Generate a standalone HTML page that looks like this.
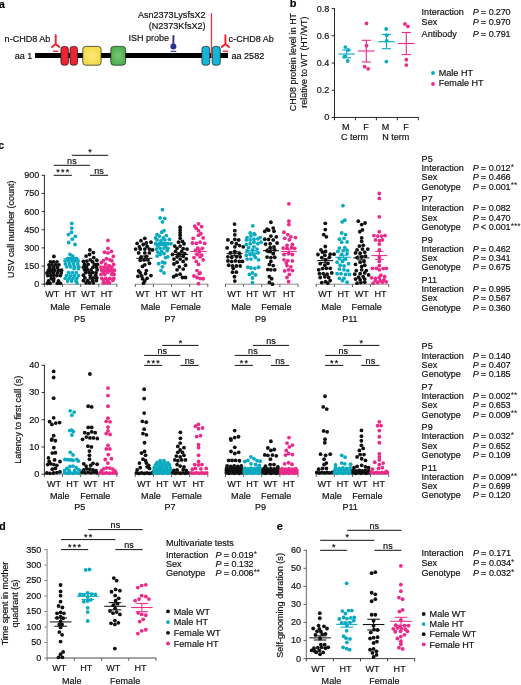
<!DOCTYPE html>
<html lang="en">
<head>
<meta charset="utf-8">
<title>Figure</title>
<style>
html,body{margin:0;padding:0;background:#fff;}
body{width:521px;height:685px;overflow:hidden;}
svg{display:block;font-family:"Liberation Sans",Arial,Helvetica,sans-serif;font-size:9.05px;fill:#111;}
text{stroke:#111;stroke-width:0.18px;}
</style>
</head>
<body>
<svg width="521" height="685" viewBox="0 0 521 685">
<rect x="0" y="0" width="521" height="685" fill="#fff"/>
<text x="-1.20" y="7.60" font-weight="bold" font-size="11" fill="#000">a</text>
<text x="289.70" y="7.00" font-weight="bold" font-size="11" fill="#000">b</text>
<text x="-1.70" y="149.00" font-weight="bold" font-size="10.6" fill="#000">c</text>
<text x="-1.00" y="529.80" font-weight="bold" font-size="11" fill="#000">d</text>
<text x="276.80" y="529.60" font-weight="bold" font-size="11" fill="#000">e</text>
<rect x="35" y="53" width="193" height="5" fill="#000"/>
<defs><radialGradient id="gy"><stop offset="0" stop-color="#fbeb7e"/><stop offset="1" stop-color="#f3dc45"/></radialGradient><radialGradient id="gg"><stop offset="0" stop-color="#7cc777"/><stop offset="1" stop-color="#4fb04f"/></radialGradient></defs>
<rect x="60.9" y="46.4" width="7.5" height="18.8" rx="2.8" ry="2.8" fill="#ea2430" stroke="#1a1a1a" stroke-width="0.7"/>
<rect x="70" y="46.4" width="7.5" height="18.8" rx="2.8" ry="2.8" fill="#ea2430" stroke="#1a1a1a" stroke-width="0.7"/>
<rect x="82.8" y="46.4" width="18.3" height="18.8" rx="3" ry="3" fill="url(#gy)" stroke="#1a1a1a" stroke-width="0.7"/>
<rect x="110.8" y="46.4" width="14.8" height="18.8" rx="3" ry="3" fill="url(#gg)" stroke="#1a1a1a" stroke-width="0.7"/>
<rect x="201.9" y="46.4" width="7.9" height="18.8" rx="2.8" ry="2.8" fill="#14b5d6" stroke="#1a1a1a" stroke-width="0.7"/>
<rect x="212.2" y="46.4" width="8.1" height="18.8" rx="2.8" ry="2.8" fill="#14b5d6" stroke="#1a1a1a" stroke-width="0.7"/>
<line x1="211.45" y1="13.00" x2="211.45" y2="57.80" stroke="#ef3040" stroke-width="1.25"/>
<text x="4.60" y="41.80">n-CHD8 Ab</text>
<text x="14.80" y="58.60">aa 1</text>
<text x="205.50" y="18.00" text-anchor="end">Asn2373LysfsX2</text>
<text x="205.50" y="29.00" text-anchor="end">(N2373KfsX2)</text>
<text x="128.40" y="41.30">ISH probe</text>
<text x="228.60" y="41.90">c-CHD8 Ab</text>
<text x="231.50" y="58.70">aa 2582</text>
<path d="M55.7 35.2 V44.3 M55.7 44.0 L52.0 47.0 M55.7 44.0 L59.400000000000006 47.0" stroke="#ee1f2e" stroke-width="1.9" stroke-linecap="round" fill="none"/>
<line x1="53.00" y1="51.20" x2="58.40" y2="51.20" stroke="#ee1f2e" stroke-width="1.3"/>
<path d="M225.4 35.2 V44.3 M225.4 44.0 L221.70000000000002 47.0 M225.4 44.0 L229.1 47.0" stroke="#ee1f2e" stroke-width="1.9" stroke-linecap="round" fill="none"/>
<line x1="222.70" y1="51.20" x2="228.10" y2="51.20" stroke="#ee1f2e" stroke-width="1.3"/>
<line x1="173.40" y1="35.20" x2="173.40" y2="46.00" stroke="#2a2f92" stroke-width="1.9"/>
<circle cx="173.4" cy="46.4" r="3.0" fill="#2a2f92"/>
<line x1="170.60" y1="51.30" x2="176.30" y2="51.30" stroke="#2a2f92" stroke-width="1.1"/>
<line x1="334.05" y1="117.45" x2="418.75" y2="117.45" stroke="#111" stroke-width="0.9"/>
<line x1="334.50" y1="117.45" x2="334.50" y2="120.25" stroke="#111" stroke-width="0.9"/>
<line x1="355.45" y1="117.45" x2="355.45" y2="120.25" stroke="#111" stroke-width="0.9"/>
<line x1="376.40" y1="117.45" x2="376.40" y2="120.25" stroke="#111" stroke-width="0.9"/>
<line x1="397.35" y1="117.45" x2="397.35" y2="120.25" stroke="#111" stroke-width="0.9"/>
<line x1="418.30" y1="117.45" x2="418.30" y2="120.25" stroke="#111" stroke-width="0.9"/>
<line x1="334.50" y1="8.15" x2="334.50" y2="117.90" stroke="#111" stroke-width="0.9"/>
<line x1="331.70" y1="117.45" x2="334.50" y2="117.45" stroke="#111" stroke-width="0.9"/>
<text x="329.40" y="120.35" text-anchor="end">0</text>
<line x1="331.70" y1="90.24" x2="334.50" y2="90.24" stroke="#111" stroke-width="0.9"/>
<text x="329.40" y="93.14" text-anchor="end">0.2</text>
<line x1="331.70" y1="63.02" x2="334.50" y2="63.02" stroke="#111" stroke-width="0.9"/>
<text x="329.40" y="65.92" text-anchor="end">0.4</text>
<line x1="331.70" y1="35.81" x2="334.50" y2="35.81" stroke="#111" stroke-width="0.9"/>
<text x="329.40" y="38.71" text-anchor="end">0.6</text>
<line x1="331.70" y1="8.60" x2="334.50" y2="8.60" stroke="#111" stroke-width="0.9"/>
<text x="329.40" y="11.50" text-anchor="end">0.8</text>
<text x="345.80" y="129.60" text-anchor="middle">M</text>
<text x="366.10" y="129.60" text-anchor="middle">F</text>
<text x="385.50" y="129.60" text-anchor="middle">M</text>
<text x="405.90" y="129.60" text-anchor="middle">F</text>
<text x="354.60" y="140.20" text-anchor="middle">C term</text>
<text x="395.80" y="140.20" text-anchor="middle">N term</text>
<text transform="translate(296.40 62.10) rotate(-90)" text-anchor="middle" font-size="8.9">CHD8 protein level in HT</text>
<text transform="translate(307.40 62.10) rotate(-90)" text-anchor="middle" font-size="8.9">relative to WT (HT/WT)</text>
<line x1="338.40" y1="54.00" x2="355.00" y2="54.00" stroke="#0aaac0" stroke-width="1.1"/>
<line x1="342.10" y1="50.00" x2="351.30" y2="50.00" stroke="#0aaac0" stroke-width="1.1"/>
<line x1="342.10" y1="57.80" x2="351.30" y2="57.80" stroke="#0aaac0" stroke-width="1.1"/>
<line x1="346.70" y1="50.00" x2="346.70" y2="57.80" stroke="#0aaac0" stroke-width="1.1"/>
<circle cx="345.31" cy="47.03" r="1.9" fill="#0aaac0"/>
<circle cx="348.26" cy="49.99" r="1.9" fill="#0aaac0"/>
<circle cx="344.50" cy="56.44" r="1.9" fill="#0aaac0"/>
<circle cx="347.72" cy="61.01" r="1.9" fill="#0aaac0"/>
<line x1="358.00" y1="51.00" x2="374.60" y2="51.00" stroke="#ec2a8a" stroke-width="1.1"/>
<line x1="361.70" y1="40.30" x2="370.90" y2="40.30" stroke="#ec2a8a" stroke-width="1.1"/>
<line x1="361.70" y1="62.00" x2="370.90" y2="62.00" stroke="#ec2a8a" stroke-width="1.1"/>
<line x1="366.30" y1="40.30" x2="366.30" y2="62.00" stroke="#ec2a8a" stroke-width="1.1"/>
<circle cx="366.54" cy="23.38" r="1.9" fill="#ec2a8a"/>
<circle cx="366.54" cy="45.69" r="1.9" fill="#ec2a8a"/>
<circle cx="364.65" cy="66.65" r="1.9" fill="#ec2a8a"/>
<circle cx="368.15" cy="68.80" r="1.9" fill="#ec2a8a"/>
<line x1="378.10" y1="41.70" x2="394.70" y2="41.70" stroke="#0aaac0" stroke-width="1.1"/>
<line x1="381.80" y1="34.40" x2="391.00" y2="34.40" stroke="#0aaac0" stroke-width="1.1"/>
<line x1="381.80" y1="48.70" x2="391.00" y2="48.70" stroke="#0aaac0" stroke-width="1.1"/>
<line x1="386.40" y1="34.40" x2="386.40" y2="48.70" stroke="#0aaac0" stroke-width="1.1"/>
<circle cx="386.15" cy="29.02" r="1.9" fill="#0aaac0"/>
<circle cx="386.69" cy="35.21" r="1.9" fill="#0aaac0"/>
<circle cx="386.69" cy="40.85" r="1.9" fill="#0aaac0"/>
<circle cx="386.42" cy="61.54" r="1.9" fill="#0aaac0"/>
<line x1="398.00" y1="43.50" x2="414.60" y2="43.50" stroke="#ec2a8a" stroke-width="1.1"/>
<line x1="401.70" y1="32.50" x2="410.90" y2="32.50" stroke="#ec2a8a" stroke-width="1.1"/>
<line x1="401.70" y1="54.60" x2="410.90" y2="54.60" stroke="#ec2a8a" stroke-width="1.1"/>
<line x1="406.30" y1="32.50" x2="406.30" y2="54.60" stroke="#ec2a8a" stroke-width="1.1"/>
<circle cx="404.97" cy="23.92" r="1.9" fill="#ec2a8a"/>
<circle cx="407.92" cy="26.34" r="1.9" fill="#ec2a8a"/>
<circle cx="406.31" cy="59.66" r="1.9" fill="#ec2a8a"/>
<circle cx="406.31" cy="65.04" r="1.9" fill="#ec2a8a"/>
<text x="421.60" y="14.50">Interaction</text>
<text x="472.70" y="14.50"><tspan font-style="italic">P</tspan><tspan x="480.80">=</tspan><tspan x="488.70" letter-spacing="-0.18">0.270</tspan></text>
<text x="421.60" y="25.40">Sex</text>
<text x="472.70" y="25.40"><tspan font-style="italic">P</tspan><tspan x="480.80">=</tspan><tspan x="488.70" letter-spacing="-0.18">0.970</tspan></text>
<text x="421.60" y="36.60">Antibody</text>
<text x="472.70" y="36.60"><tspan font-style="italic">P</tspan><tspan x="480.80">=</tspan><tspan x="488.70" letter-spacing="-0.18">0.791</tspan></text>
<circle cx="433.00" cy="73.00" r="1.9" fill="#0aaac0"/>
<text x="438.80" y="76.20">Male HT</text>
<circle cx="433.00" cy="84.00" r="1.9" fill="#ec2a8a"/>
<text x="438.80" y="86.40">Female HT</text>
<line x1="43.95" y1="284.20" x2="117.35" y2="284.20" stroke="#8a8a8a" stroke-width="1.0"/>
<line x1="44.40" y1="284.20" x2="44.40" y2="287.00" stroke="#505050" stroke-width="0.9"/>
<line x1="62.52" y1="284.20" x2="62.52" y2="287.00" stroke="#505050" stroke-width="0.9"/>
<line x1="80.65" y1="284.20" x2="80.65" y2="287.00" stroke="#505050" stroke-width="0.9"/>
<line x1="98.78" y1="284.20" x2="98.78" y2="287.00" stroke="#505050" stroke-width="0.9"/>
<line x1="116.90" y1="284.20" x2="116.90" y2="287.00" stroke="#505050" stroke-width="0.9"/>
<line x1="44.40" y1="174.85" x2="44.40" y2="284.65" stroke="#1a1a1a" stroke-width="0.9"/>
<line x1="41.60" y1="284.20" x2="44.40" y2="284.20" stroke="#1a1a1a" stroke-width="0.9"/>
<text x="39.30" y="287.10" text-anchor="end">0</text>
<line x1="41.60" y1="266.05" x2="44.40" y2="266.05" stroke="#1a1a1a" stroke-width="0.9"/>
<text x="39.30" y="268.95" text-anchor="end">150</text>
<line x1="41.60" y1="247.90" x2="44.40" y2="247.90" stroke="#1a1a1a" stroke-width="0.9"/>
<text x="39.30" y="250.80" text-anchor="end">300</text>
<line x1="41.60" y1="229.75" x2="44.40" y2="229.75" stroke="#1a1a1a" stroke-width="0.9"/>
<text x="39.30" y="232.65" text-anchor="end">450</text>
<line x1="41.60" y1="211.60" x2="44.40" y2="211.60" stroke="#1a1a1a" stroke-width="0.9"/>
<text x="39.30" y="214.50" text-anchor="end">600</text>
<line x1="41.60" y1="193.45" x2="44.40" y2="193.45" stroke="#1a1a1a" stroke-width="0.9"/>
<text x="39.30" y="196.35" text-anchor="end">750</text>
<line x1="41.60" y1="175.30" x2="44.40" y2="175.30" stroke="#1a1a1a" stroke-width="0.9"/>
<text x="39.30" y="178.20" text-anchor="end">900</text>
<text x="52.20" y="296.90" text-anchor="middle">WT</text>
<text x="70.55" y="296.90" text-anchor="middle">HT</text>
<text x="88.40" y="296.90" text-anchor="middle">WT</text>
<text x="106.80" y="296.90" text-anchor="middle">HT</text>
<text x="60.05" y="309.60" text-anchor="middle">Male</text>
<text x="95.50" y="309.60" text-anchor="middle">Female</text>
<text x="79.65" y="322.20" text-anchor="middle">P5</text>
<line x1="43.95" y1="474.20" x2="117.35" y2="474.20" stroke="#8a8a8a" stroke-width="1.0"/>
<line x1="44.40" y1="474.20" x2="44.40" y2="477.00" stroke="#505050" stroke-width="0.9"/>
<line x1="62.52" y1="474.20" x2="62.52" y2="477.00" stroke="#505050" stroke-width="0.9"/>
<line x1="80.65" y1="474.20" x2="80.65" y2="477.00" stroke="#505050" stroke-width="0.9"/>
<line x1="98.78" y1="474.20" x2="98.78" y2="477.00" stroke="#505050" stroke-width="0.9"/>
<line x1="116.90" y1="474.20" x2="116.90" y2="477.00" stroke="#505050" stroke-width="0.9"/>
<line x1="44.40" y1="364.85" x2="44.40" y2="474.65" stroke="#1a1a1a" stroke-width="0.9"/>
<line x1="41.60" y1="474.20" x2="44.40" y2="474.20" stroke="#1a1a1a" stroke-width="0.9"/>
<text x="39.30" y="477.10" text-anchor="end">0</text>
<line x1="41.60" y1="446.98" x2="44.40" y2="446.98" stroke="#1a1a1a" stroke-width="0.9"/>
<text x="39.30" y="449.88" text-anchor="end">10</text>
<line x1="41.60" y1="419.75" x2="44.40" y2="419.75" stroke="#1a1a1a" stroke-width="0.9"/>
<text x="39.30" y="422.65" text-anchor="end">20</text>
<line x1="41.60" y1="392.52" x2="44.40" y2="392.52" stroke="#1a1a1a" stroke-width="0.9"/>
<text x="39.30" y="395.42" text-anchor="end">30</text>
<line x1="41.60" y1="365.30" x2="44.40" y2="365.30" stroke="#1a1a1a" stroke-width="0.9"/>
<text x="39.30" y="368.20" text-anchor="end">40</text>
<text x="53.97" y="486.90" text-anchor="middle">WT</text>
<text x="72.40" y="486.90" text-anchor="middle">HT</text>
<text x="90.60" y="486.90" text-anchor="middle">WT</text>
<text x="109.00" y="486.90" text-anchor="middle">HT</text>
<text x="59.80" y="499.00" text-anchor="middle">Male</text>
<text x="95.30" y="499.00" text-anchor="middle">Female</text>
<text x="79.75" y="510.00" text-anchor="middle">P5</text>
<line x1="134.90" y1="284.20" x2="208.20" y2="284.20" stroke="#8a8a8a" stroke-width="1.0"/>
<line x1="135.30" y1="284.20" x2="135.30" y2="287.00" stroke="#505050" stroke-width="0.9"/>
<line x1="153.43" y1="284.20" x2="153.43" y2="287.00" stroke="#505050" stroke-width="0.9"/>
<line x1="171.55" y1="284.20" x2="171.55" y2="287.00" stroke="#505050" stroke-width="0.9"/>
<line x1="189.68" y1="284.20" x2="189.68" y2="287.00" stroke="#505050" stroke-width="0.9"/>
<line x1="207.80" y1="284.20" x2="207.80" y2="287.00" stroke="#505050" stroke-width="0.9"/>
<text x="142.80" y="296.90" text-anchor="middle">WT</text>
<text x="161.40" y="296.90" text-anchor="middle">HT</text>
<text x="178.60" y="296.90" text-anchor="middle">WT</text>
<text x="197.10" y="296.90" text-anchor="middle">HT</text>
<text x="150.60" y="309.60" text-anchor="middle">Male</text>
<text x="185.70" y="309.60" text-anchor="middle">Female</text>
<text x="170.00" y="322.20" text-anchor="middle">P7</text>
<line x1="134.90" y1="474.20" x2="208.20" y2="474.20" stroke="#8a8a8a" stroke-width="1.0"/>
<line x1="135.30" y1="474.20" x2="135.30" y2="477.00" stroke="#505050" stroke-width="0.9"/>
<line x1="153.43" y1="474.20" x2="153.43" y2="477.00" stroke="#505050" stroke-width="0.9"/>
<line x1="171.55" y1="474.20" x2="171.55" y2="477.00" stroke="#505050" stroke-width="0.9"/>
<line x1="189.68" y1="474.20" x2="189.68" y2="477.00" stroke="#505050" stroke-width="0.9"/>
<line x1="207.80" y1="474.20" x2="207.80" y2="477.00" stroke="#505050" stroke-width="0.9"/>
<text x="143.97" y="486.90" text-anchor="middle">WT</text>
<text x="162.40" y="486.90" text-anchor="middle">HT</text>
<text x="179.80" y="486.90" text-anchor="middle">WT</text>
<text x="198.60" y="486.90" text-anchor="middle">HT</text>
<text x="150.90" y="499.00" text-anchor="middle">Male</text>
<text x="186.80" y="499.00" text-anchor="middle">Female</text>
<text x="170.00" y="510.00" text-anchor="middle">P7</text>
<line x1="225.10" y1="284.20" x2="298.40" y2="284.20" stroke="#8a8a8a" stroke-width="1.0"/>
<line x1="225.50" y1="284.20" x2="225.50" y2="287.00" stroke="#505050" stroke-width="0.9"/>
<line x1="243.62" y1="284.20" x2="243.62" y2="287.00" stroke="#505050" stroke-width="0.9"/>
<line x1="261.75" y1="284.20" x2="261.75" y2="287.00" stroke="#505050" stroke-width="0.9"/>
<line x1="279.88" y1="284.20" x2="279.88" y2="287.00" stroke="#505050" stroke-width="0.9"/>
<line x1="298.00" y1="284.20" x2="298.00" y2="287.00" stroke="#505050" stroke-width="0.9"/>
<text x="234.35" y="296.90" text-anchor="middle">WT</text>
<text x="252.40" y="296.90" text-anchor="middle">HT</text>
<text x="269.60" y="296.90" text-anchor="middle">WT</text>
<text x="289.00" y="296.90" text-anchor="middle">HT</text>
<text x="241.00" y="309.60" text-anchor="middle">Male</text>
<text x="276.35" y="309.60" text-anchor="middle">Female</text>
<text x="260.55" y="322.20" text-anchor="middle">P9</text>
<line x1="225.10" y1="474.20" x2="298.40" y2="474.20" stroke="#8a8a8a" stroke-width="1.0"/>
<line x1="225.50" y1="474.20" x2="225.50" y2="477.00" stroke="#505050" stroke-width="0.9"/>
<line x1="243.62" y1="474.20" x2="243.62" y2="477.00" stroke="#505050" stroke-width="0.9"/>
<line x1="261.75" y1="474.20" x2="261.75" y2="477.00" stroke="#505050" stroke-width="0.9"/>
<line x1="279.88" y1="474.20" x2="279.88" y2="477.00" stroke="#505050" stroke-width="0.9"/>
<line x1="298.00" y1="474.20" x2="298.00" y2="477.00" stroke="#505050" stroke-width="0.9"/>
<text x="234.20" y="486.90" text-anchor="middle">WT</text>
<text x="252.40" y="486.90" text-anchor="middle">HT</text>
<text x="270.60" y="486.90" text-anchor="middle">WT</text>
<text x="289.00" y="486.90" text-anchor="middle">HT</text>
<text x="240.90" y="499.00" text-anchor="middle">Male</text>
<text x="276.20" y="499.00" text-anchor="middle">Female</text>
<text x="260.55" y="510.00" text-anchor="middle">P9</text>
<line x1="315.80" y1="284.20" x2="389.10" y2="284.20" stroke="#8a8a8a" stroke-width="1.0"/>
<line x1="316.20" y1="284.20" x2="316.20" y2="287.00" stroke="#505050" stroke-width="0.9"/>
<line x1="334.32" y1="284.20" x2="334.32" y2="287.00" stroke="#505050" stroke-width="0.9"/>
<line x1="352.45" y1="284.20" x2="352.45" y2="287.00" stroke="#505050" stroke-width="0.9"/>
<line x1="370.57" y1="284.20" x2="370.57" y2="287.00" stroke="#505050" stroke-width="0.9"/>
<line x1="388.70" y1="284.20" x2="388.70" y2="287.00" stroke="#505050" stroke-width="0.9"/>
<text x="325.20" y="296.90" text-anchor="middle">WT</text>
<text x="343.55" y="296.90" text-anchor="middle">HT</text>
<text x="361.80" y="296.90" text-anchor="middle">WT</text>
<text x="380.55" y="296.90" text-anchor="middle">HT</text>
<text x="331.40" y="309.60" text-anchor="middle">Male</text>
<text x="366.70" y="309.60" text-anchor="middle">Female</text>
<text x="349.85" y="322.20" text-anchor="middle">P11</text>
<line x1="315.80" y1="474.20" x2="389.10" y2="474.20" stroke="#8a8a8a" stroke-width="1.0"/>
<line x1="316.20" y1="474.20" x2="316.20" y2="477.00" stroke="#505050" stroke-width="0.9"/>
<line x1="334.32" y1="474.20" x2="334.32" y2="477.00" stroke="#505050" stroke-width="0.9"/>
<line x1="352.45" y1="474.20" x2="352.45" y2="477.00" stroke="#505050" stroke-width="0.9"/>
<line x1="370.57" y1="474.20" x2="370.57" y2="477.00" stroke="#505050" stroke-width="0.9"/>
<line x1="388.70" y1="474.20" x2="388.70" y2="477.00" stroke="#505050" stroke-width="0.9"/>
<text x="324.50" y="486.90" text-anchor="middle">WT</text>
<text x="342.85" y="486.90" text-anchor="middle">HT</text>
<text x="360.40" y="486.90" text-anchor="middle">WT</text>
<text x="378.90" y="486.90" text-anchor="middle">HT</text>
<text x="331.90" y="499.00" text-anchor="middle">Male</text>
<text x="367.40" y="499.00" text-anchor="middle">Female</text>
<text x="350.15" y="510.00" text-anchor="middle">P11</text>
<text transform="translate(14.40 229.30) rotate(-90)" text-anchor="middle" font-size="8.95">USV call number (count)</text>
<text transform="translate(20.50 419.80) rotate(-90)" text-anchor="middle">Latency to first call (s)</text>
<line x1="53.76" y1="175.30" x2="71.89" y2="175.30" stroke="#111" stroke-width="1.0"/>
<text x="63.43" y="175.40" text-anchor="middle" font-size="9" letter-spacing="1.25" stroke-width="0.1">***</text>
<line x1="53.76" y1="165.30" x2="90.01" y2="165.30" stroke="#111" stroke-width="1.0"/>
<text x="71.89" y="163.50" text-anchor="middle">ns</text>
<line x1="71.89" y1="155.30" x2="108.14" y2="155.30" stroke="#111" stroke-width="1.0"/>
<text x="90.61" y="155.40" text-anchor="middle" font-size="9" letter-spacing="1.25" stroke-width="0.1">*</text>
<line x1="90.01" y1="175.30" x2="108.14" y2="175.30" stroke="#111" stroke-width="1.0"/>
<text x="99.08" y="173.50" text-anchor="middle">ns</text>
<line x1="144.16" y1="365.40" x2="162.29" y2="365.40" stroke="#111" stroke-width="1.0"/>
<text x="153.83" y="365.50" text-anchor="middle" font-size="9" letter-spacing="1.25" stroke-width="0.1">***</text>
<line x1="144.16" y1="355.40" x2="180.41" y2="355.40" stroke="#111" stroke-width="1.0"/>
<text x="162.29" y="353.60" text-anchor="middle">ns</text>
<line x1="162.29" y1="345.40" x2="198.54" y2="345.40" stroke="#111" stroke-width="1.0"/>
<text x="181.01" y="345.50" text-anchor="middle" font-size="9" letter-spacing="1.25" stroke-width="0.1">*</text>
<line x1="180.41" y1="365.40" x2="198.54" y2="365.40" stroke="#111" stroke-width="1.0"/>
<text x="189.48" y="363.60" text-anchor="middle">ns</text>
<line x1="234.76" y1="365.40" x2="252.89" y2="365.40" stroke="#111" stroke-width="1.0"/>
<text x="244.43" y="365.50" text-anchor="middle" font-size="9" letter-spacing="1.25" stroke-width="0.1">**</text>
<line x1="234.76" y1="355.40" x2="271.01" y2="355.40" stroke="#111" stroke-width="1.0"/>
<text x="252.89" y="353.60" text-anchor="middle">ns</text>
<line x1="252.89" y1="345.40" x2="289.14" y2="345.40" stroke="#111" stroke-width="1.0"/>
<text x="271.01" y="343.60" text-anchor="middle">ns</text>
<line x1="271.01" y1="365.40" x2="289.14" y2="365.40" stroke="#111" stroke-width="1.0"/>
<text x="280.07" y="363.60" text-anchor="middle">ns</text>
<line x1="325.06" y1="365.40" x2="343.19" y2="365.40" stroke="#111" stroke-width="1.0"/>
<text x="334.73" y="365.50" text-anchor="middle" font-size="9" letter-spacing="1.25" stroke-width="0.1">**</text>
<line x1="325.06" y1="355.40" x2="361.31" y2="355.40" stroke="#111" stroke-width="1.0"/>
<text x="343.19" y="353.60" text-anchor="middle">ns</text>
<line x1="343.19" y1="345.40" x2="379.44" y2="345.40" stroke="#111" stroke-width="1.0"/>
<text x="361.91" y="345.50" text-anchor="middle" font-size="9" letter-spacing="1.25" stroke-width="0.1">*</text>
<line x1="361.31" y1="365.40" x2="379.44" y2="365.40" stroke="#111" stroke-width="1.0"/>
<text x="370.38" y="363.60" text-anchor="middle">ns</text>
<text x="421.60" y="161.70">P5</text>
<text x="421.60" y="170.90">Interaction</text>
<text x="472.70" y="170.90"><tspan font-style="italic">P</tspan><tspan x="480.80">=</tspan><tspan x="488.70" letter-spacing="-0.18">0.012</tspan><tspan font-size="8.5" dy="-1.2" dx="0.3" letter-spacing="-0.1" stroke-width="0">*</tspan></text>
<text x="421.60" y="180.20">Sex</text>
<text x="472.70" y="180.20"><tspan font-style="italic">P</tspan><tspan x="480.80">=</tspan><tspan x="488.70" letter-spacing="-0.18">0.466</tspan></text>
<text x="421.60" y="189.50">Genotype</text>
<text x="472.70" y="189.50"><tspan font-style="italic">P</tspan><tspan x="480.80">=</tspan><tspan x="488.70" letter-spacing="-0.18">0.001</tspan><tspan font-size="8.5" dy="-1.2" dx="0.3" letter-spacing="-0.1" stroke-width="0">**</tspan></text>
<text x="421.60" y="202.10">P7</text>
<text x="421.60" y="211.30">Interaction</text>
<text x="472.70" y="211.30"><tspan font-style="italic">P</tspan><tspan x="480.80">=</tspan><tspan x="488.70" letter-spacing="-0.18">0.082</tspan></text>
<text x="421.60" y="220.60">Sex</text>
<text x="472.70" y="220.60"><tspan font-style="italic">P</tspan><tspan x="480.80">=</tspan><tspan x="488.70" letter-spacing="-0.18">0.470</tspan></text>
<text x="421.60" y="229.90">Genotype</text>
<text x="472.70" y="229.90"><tspan font-style="italic">P</tspan><tspan x="480.80">&lt;</tspan><tspan x="488.70" letter-spacing="-0.18">0.001</tspan><tspan font-size="8.5" dy="-1.2" dx="0.3" letter-spacing="-0.1" stroke-width="0">***</tspan></text>
<text x="421.60" y="242.50">P9</text>
<text x="421.60" y="251.70">Interaction</text>
<text x="472.70" y="251.70"><tspan font-style="italic">P</tspan><tspan x="480.80">=</tspan><tspan x="488.70" letter-spacing="-0.18">0.462</tspan></text>
<text x="421.60" y="261.00">Sex</text>
<text x="472.70" y="261.00"><tspan font-style="italic">P</tspan><tspan x="480.80">=</tspan><tspan x="488.70" letter-spacing="-0.18">0.341</tspan></text>
<text x="421.60" y="270.30">Genotype</text>
<text x="472.70" y="270.30"><tspan font-style="italic">P</tspan><tspan x="480.80">=</tspan><tspan x="488.70" letter-spacing="-0.18">0.675</tspan></text>
<text x="421.60" y="282.90">P11</text>
<text x="421.60" y="292.10">Interaction</text>
<text x="472.70" y="292.10"><tspan font-style="italic">P</tspan><tspan x="480.80">=</tspan><tspan x="488.70" letter-spacing="-0.18">0.995</tspan></text>
<text x="421.60" y="301.40">Sex</text>
<text x="472.70" y="301.40"><tspan font-style="italic">P</tspan><tspan x="480.80">=</tspan><tspan x="488.70" letter-spacing="-0.18">0.567</tspan></text>
<text x="421.60" y="310.70">Genotype</text>
<text x="472.70" y="310.70"><tspan font-style="italic">P</tspan><tspan x="480.80">=</tspan><tspan x="488.70" letter-spacing="-0.18">0.360</tspan></text>
<text x="421.60" y="349.40">P5</text>
<text x="421.60" y="358.60">Interaction</text>
<text x="472.70" y="358.60"><tspan font-style="italic">P</tspan><tspan x="480.80">=</tspan><tspan x="488.70" letter-spacing="-0.18">0.140</tspan></text>
<text x="421.60" y="367.90">Sex</text>
<text x="472.70" y="367.90"><tspan font-style="italic">P</tspan><tspan x="480.80">=</tspan><tspan x="488.70" letter-spacing="-0.18">0.407</tspan></text>
<text x="421.60" y="377.20">Genotype</text>
<text x="472.70" y="377.20"><tspan font-style="italic">P</tspan><tspan x="480.80">=</tspan><tspan x="488.70" letter-spacing="-0.18">0.185</tspan></text>
<text x="421.60" y="389.80">P7</text>
<text x="421.60" y="399.00">Interaction</text>
<text x="472.70" y="399.00"><tspan font-style="italic">P</tspan><tspan x="480.80">=</tspan><tspan x="488.70" letter-spacing="-0.18">0.002</tspan><tspan font-size="8.5" dy="-1.2" dx="0.3" letter-spacing="-0.1" stroke-width="0">**</tspan></text>
<text x="421.60" y="408.30">Sex</text>
<text x="472.70" y="408.30"><tspan font-style="italic">P</tspan><tspan x="480.80">=</tspan><tspan x="488.70" letter-spacing="-0.18">0.653</tspan></text>
<text x="421.60" y="417.60">Genotype</text>
<text x="472.70" y="417.60"><tspan font-style="italic">P</tspan><tspan x="480.80">=</tspan><tspan x="488.70" letter-spacing="-0.18">0.009</tspan><tspan font-size="8.5" dy="-1.2" dx="0.3" letter-spacing="-0.1" stroke-width="0">**</tspan></text>
<text x="421.60" y="430.20">P9</text>
<text x="421.60" y="439.40">Interaction</text>
<text x="472.70" y="439.40"><tspan font-style="italic">P</tspan><tspan x="480.80">=</tspan><tspan x="488.70" letter-spacing="-0.18">0.032</tspan><tspan font-size="8.5" dy="-1.2" dx="0.3" letter-spacing="-0.1" stroke-width="0">*</tspan></text>
<text x="421.60" y="448.70">Sex</text>
<text x="472.70" y="448.70"><tspan font-style="italic">P</tspan><tspan x="480.80">=</tspan><tspan x="488.70" letter-spacing="-0.18">0.652</tspan></text>
<text x="421.60" y="458.00">Genotype</text>
<text x="472.70" y="458.00"><tspan font-style="italic">P</tspan><tspan x="480.80">=</tspan><tspan x="488.70" letter-spacing="-0.18">0.109</tspan></text>
<text x="421.60" y="470.60">P11</text>
<text x="421.60" y="479.80">Interaction</text>
<text x="472.70" y="479.80"><tspan font-style="italic">P</tspan><tspan x="480.80">=</tspan><tspan x="488.70" letter-spacing="-0.18">0.009</tspan><tspan font-size="8.5" dy="-1.2" dx="0.3" letter-spacing="-0.1" stroke-width="0">**</tspan></text>
<text x="421.60" y="489.10">Sex</text>
<text x="472.70" y="489.10"><tspan font-style="italic">P</tspan><tspan x="480.80">=</tspan><tspan x="488.70" letter-spacing="-0.18">0.699</tspan></text>
<text x="421.60" y="498.40">Genotype</text>
<text x="472.70" y="498.40"><tspan font-style="italic">P</tspan><tspan x="480.80">=</tspan><tspan x="488.70" letter-spacing="-0.18">0.120</tspan></text>
<line x1="46.60" y1="658.00" x2="156.40" y2="658.00" stroke="#4a4a4a" stroke-width="1.0"/>
<line x1="47.10" y1="658.00" x2="47.10" y2="660.80" stroke="#666" stroke-width="1.0"/>
<line x1="74.30" y1="658.00" x2="74.30" y2="660.80" stroke="#666" stroke-width="1.0"/>
<line x1="101.50" y1="658.00" x2="101.50" y2="660.80" stroke="#666" stroke-width="1.0"/>
<line x1="128.70" y1="658.00" x2="128.70" y2="660.80" stroke="#666" stroke-width="1.0"/>
<line x1="155.90" y1="658.00" x2="155.90" y2="660.80" stroke="#666" stroke-width="1.0"/>
<line x1="47.10" y1="549.10" x2="47.10" y2="658.50" stroke="#868686" stroke-width="1.0"/>
<line x1="44.30" y1="658.00" x2="47.10" y2="658.00" stroke="#868686" stroke-width="1.0"/>
<text x="41.30" y="660.90" text-anchor="end">0</text>
<line x1="44.30" y1="642.51" x2="47.10" y2="642.51" stroke="#868686" stroke-width="1.0"/>
<text x="41.30" y="645.41" text-anchor="end">50</text>
<line x1="44.30" y1="627.03" x2="47.10" y2="627.03" stroke="#868686" stroke-width="1.0"/>
<text x="41.30" y="629.93" text-anchor="end">100</text>
<line x1="44.30" y1="611.54" x2="47.10" y2="611.54" stroke="#868686" stroke-width="1.0"/>
<text x="41.30" y="614.44" text-anchor="end">150</text>
<line x1="44.30" y1="596.06" x2="47.10" y2="596.06" stroke="#868686" stroke-width="1.0"/>
<text x="41.30" y="598.96" text-anchor="end">200</text>
<line x1="44.30" y1="580.57" x2="47.10" y2="580.57" stroke="#868686" stroke-width="1.0"/>
<text x="41.30" y="583.47" text-anchor="end">250</text>
<line x1="44.30" y1="565.09" x2="47.10" y2="565.09" stroke="#868686" stroke-width="1.0"/>
<text x="41.30" y="567.99" text-anchor="end">300</text>
<line x1="44.30" y1="549.60" x2="47.10" y2="549.60" stroke="#868686" stroke-width="1.0"/>
<text x="41.30" y="552.50" text-anchor="end">350</text>
<text x="59.30" y="671.00" text-anchor="middle">WT</text>
<text x="86.30" y="671.00" text-anchor="middle">HT</text>
<text x="113.30" y="671.00" text-anchor="middle">WT</text>
<text x="140.50" y="671.00" text-anchor="middle">HT</text>
<text x="71.70" y="684.00" text-anchor="middle">Male</text>
<text x="125.10" y="684.00" text-anchor="middle">Female</text>
<text transform="translate(7.60 603.50) rotate(-90)" text-anchor="middle" font-size="8.95">Time spent in mother</text>
<text transform="translate(18.40 603.50) rotate(-90)" text-anchor="middle" font-size="8.95">quadrant (s)</text>
<line x1="61.00" y1="549.60" x2="88.20" y2="549.60" stroke="#111" stroke-width="1.0"/>
<text x="75.20" y="549.70" text-anchor="middle" font-size="9" letter-spacing="1.25" stroke-width="0.1">***</text>
<line x1="61.00" y1="539.60" x2="115.40" y2="539.60" stroke="#111" stroke-width="1.0"/>
<text x="88.80" y="539.70" text-anchor="middle" font-size="9" letter-spacing="1.25" stroke-width="0.1">**</text>
<line x1="88.20" y1="529.60" x2="142.60" y2="529.60" stroke="#111" stroke-width="1.0"/>
<text x="115.40" y="527.80" text-anchor="middle">ns</text>
<line x1="115.40" y1="549.60" x2="142.60" y2="549.60" stroke="#111" stroke-width="1.0"/>
<text x="129.00" y="547.80" text-anchor="middle">ns</text>
<text x="166.00" y="546.00">Multivariate tests</text>
<text x="166.00" y="558.00">Interaction</text>
<text x="215.60" y="558.00"><tspan font-style="italic">P</tspan><tspan x="223.70">=</tspan><tspan x="231.60" letter-spacing="-0.18">0.019</tspan><tspan font-size="8.5" dy="-1.2" dx="0.3" letter-spacing="-0.1" stroke-width="0">*</tspan></text>
<text x="166.00" y="567.20">Sex</text>
<text x="215.60" y="567.20"><tspan font-style="italic">P</tspan><tspan x="223.70">=</tspan><tspan x="231.60" letter-spacing="-0.18">0.132</tspan></text>
<text x="166.00" y="576.40">Genotype</text>
<text x="215.60" y="576.40"><tspan font-style="italic">P</tspan><tspan x="223.70">=</tspan><tspan x="231.60" letter-spacing="-0.18">0.006</tspan><tspan font-size="8.5" dy="-1.2" dx="0.3" letter-spacing="-0.1" stroke-width="0">**</tspan></text>
<circle cx="168.00" cy="611.40" r="1.9" fill="#111"/>
<text x="173.80" y="614.60">Male WT</text>
<circle cx="168.00" cy="622.10" r="1.9" fill="#0aaac0"/>
<text x="173.80" y="625.30">Male HT</text>
<circle cx="168.00" cy="632.80" r="1.9" fill="#111"/>
<text x="173.80" y="636.00">Female WT</text>
<circle cx="168.00" cy="643.50" r="1.9" fill="#ec2a8a"/>
<text x="173.80" y="646.70">Female HT</text>
<line x1="305.80" y1="658.60" x2="415.20" y2="658.60" stroke="#444" stroke-width="1.0"/>
<line x1="306.30" y1="658.60" x2="306.30" y2="661.40" stroke="#444" stroke-width="1.0"/>
<line x1="333.40" y1="658.60" x2="333.40" y2="661.40" stroke="#444" stroke-width="1.0"/>
<line x1="360.50" y1="658.60" x2="360.50" y2="661.40" stroke="#444" stroke-width="1.0"/>
<line x1="387.60" y1="658.60" x2="387.60" y2="661.40" stroke="#444" stroke-width="1.0"/>
<line x1="414.70" y1="658.60" x2="414.70" y2="661.40" stroke="#444" stroke-width="1.0"/>
<line x1="306.30" y1="549.80" x2="306.30" y2="659.10" stroke="#666" stroke-width="1.0"/>
<line x1="303.50" y1="658.60" x2="306.30" y2="658.60" stroke="#666" stroke-width="1.0"/>
<text x="301.00" y="661.50" text-anchor="end">0</text>
<line x1="303.50" y1="640.55" x2="306.30" y2="640.55" stroke="#666" stroke-width="1.0"/>
<text x="301.00" y="643.45" text-anchor="end">10</text>
<line x1="303.50" y1="622.50" x2="306.30" y2="622.50" stroke="#666" stroke-width="1.0"/>
<text x="301.00" y="625.40" text-anchor="end">20</text>
<line x1="303.50" y1="604.45" x2="306.30" y2="604.45" stroke="#666" stroke-width="1.0"/>
<text x="301.00" y="607.35" text-anchor="end">30</text>
<line x1="303.50" y1="586.40" x2="306.30" y2="586.40" stroke="#666" stroke-width="1.0"/>
<text x="301.00" y="589.30" text-anchor="end">40</text>
<line x1="303.50" y1="568.35" x2="306.30" y2="568.35" stroke="#666" stroke-width="1.0"/>
<text x="301.00" y="571.25" text-anchor="end">50</text>
<line x1="303.50" y1="550.30" x2="306.30" y2="550.30" stroke="#666" stroke-width="1.0"/>
<text x="301.00" y="553.20" text-anchor="end">60</text>
<text x="318.35" y="672.00" text-anchor="middle">WT</text>
<text x="345.45" y="672.00" text-anchor="middle">HT</text>
<text x="372.55" y="672.00" text-anchor="middle">WT</text>
<text x="399.65" y="672.00" text-anchor="middle">HT</text>
<text x="331.40" y="684.40" text-anchor="middle">Male</text>
<text x="384.40" y="684.40" text-anchor="middle">Female</text>
<text transform="translate(282.90 605.40) rotate(-90)" text-anchor="middle">Self-grooming duration (s)</text>
<line x1="320.15" y1="550.30" x2="347.25" y2="550.30" stroke="#111" stroke-width="1.0"/>
<text x="334.30" y="550.40" text-anchor="middle" font-size="9" letter-spacing="1.25" stroke-width="0.1">*</text>
<line x1="320.15" y1="540.30" x2="374.35" y2="540.30" stroke="#111" stroke-width="1.0"/>
<text x="347.85" y="540.40" text-anchor="middle" font-size="9" letter-spacing="1.25" stroke-width="0.1">*</text>
<line x1="347.25" y1="530.30" x2="401.45" y2="530.30" stroke="#111" stroke-width="1.0"/>
<text x="374.35" y="528.50" text-anchor="middle">ns</text>
<line x1="374.35" y1="550.30" x2="401.45" y2="550.30" stroke="#111" stroke-width="1.0"/>
<text x="387.90" y="548.50" text-anchor="middle">ns</text>
<text x="421.40" y="556.00">Interaction</text>
<text x="473.00" y="556.00"><tspan font-style="italic">P</tspan><tspan x="481.10">=</tspan><tspan x="489.00" letter-spacing="-0.18">0.171</tspan></text>
<text x="421.40" y="565.90">Sex</text>
<text x="473.00" y="565.90"><tspan font-style="italic">P</tspan><tspan x="481.10">=</tspan><tspan x="489.00" letter-spacing="-0.18">0.034</tspan><tspan font-size="8.5" dy="-1.2" dx="0.3" letter-spacing="-0.1" stroke-width="0">*</tspan></text>
<text x="421.40" y="575.80">Genotype</text>
<text x="473.00" y="575.80"><tspan font-style="italic">P</tspan><tspan x="481.10">=</tspan><tspan x="489.00" letter-spacing="-0.18">0.032</tspan><tspan font-size="8.5" dy="-1.2" dx="0.3" letter-spacing="-0.1" stroke-width="0">*</tspan></text>
<circle cx="423.70" cy="614.00" r="1.9" fill="#111"/>
<text x="429.60" y="617.20">Male WT</text>
<circle cx="423.70" cy="624.10" r="1.9" fill="#0aaac0"/>
<text x="429.60" y="627.30">Male HT</text>
<circle cx="423.70" cy="634.20" r="1.9" fill="#111"/>
<text x="429.60" y="637.40">Female WT</text>
<circle cx="423.70" cy="644.30" r="1.9" fill="#ec2a8a"/>
<text x="429.60" y="647.50">Female HT</text>
<circle cx="47.37" cy="283.30" r="1.9" fill="#111"/>
<circle cx="50.06" cy="283.30" r="1.9" fill="#111"/>
<circle cx="57.35" cy="283.30" r="1.9" fill="#111"/>
<circle cx="60.42" cy="283.30" r="1.9" fill="#111"/>
<circle cx="48.52" cy="280.99" r="1.9" fill="#111"/>
<circle cx="53.51" cy="280.99" r="1.9" fill="#111"/>
<circle cx="58.50" cy="280.99" r="1.9" fill="#111"/>
<circle cx="51.21" cy="278.69" r="1.9" fill="#111"/>
<circle cx="53.82" cy="278.69" r="1.9" fill="#111"/>
<circle cx="47.75" cy="275.62" r="1.9" fill="#111"/>
<circle cx="50.83" cy="275.62" r="1.9" fill="#111"/>
<circle cx="53.90" cy="275.62" r="1.9" fill="#111"/>
<circle cx="56.97" cy="275.62" r="1.9" fill="#111"/>
<circle cx="60.42" cy="275.62" r="1.9" fill="#111"/>
<circle cx="46.99" cy="272.92" r="1.9" fill="#111"/>
<circle cx="50.06" cy="272.92" r="1.9" fill="#111"/>
<circle cx="53.51" cy="272.92" r="1.9" fill="#111"/>
<circle cx="57.35" cy="272.92" r="1.9" fill="#111"/>
<circle cx="61.19" cy="272.92" r="1.9" fill="#111"/>
<circle cx="48.52" cy="270.25" r="1.9" fill="#111"/>
<circle cx="51.59" cy="270.25" r="1.9" fill="#111"/>
<circle cx="54.66" cy="270.25" r="1.9" fill="#111"/>
<circle cx="58.50" cy="270.25" r="1.9" fill="#111"/>
<circle cx="61.57" cy="270.25" r="1.9" fill="#111"/>
<circle cx="49.67" cy="267.54" r="1.9" fill="#111"/>
<circle cx="53.51" cy="267.54" r="1.9" fill="#111"/>
<circle cx="57.35" cy="267.54" r="1.9" fill="#111"/>
<circle cx="48.91" cy="264.87" r="1.9" fill="#111"/>
<circle cx="51.98" cy="264.87" r="1.9" fill="#111"/>
<circle cx="55.43" cy="264.87" r="1.9" fill="#111"/>
<circle cx="58.89" cy="264.87" r="1.9" fill="#111"/>
<circle cx="50.44" cy="261.80" r="1.9" fill="#111"/>
<circle cx="53.51" cy="261.80" r="1.9" fill="#111"/>
<circle cx="56.97" cy="261.80" r="1.9" fill="#111"/>
<circle cx="53.90" cy="256.43" r="1.9" fill="#111"/>
<circle cx="70.02" cy="254.49" r="1.9" fill="#0aaac0"/>
<circle cx="72.71" cy="256.03" r="1.9" fill="#0aaac0"/>
<circle cx="67.33" cy="258.73" r="1.9" fill="#0aaac0"/>
<circle cx="70.40" cy="258.73" r="1.9" fill="#0aaac0"/>
<circle cx="73.47" cy="258.73" r="1.9" fill="#0aaac0"/>
<circle cx="76.55" cy="258.73" r="1.9" fill="#0aaac0"/>
<circle cx="65.03" cy="261.03" r="1.9" fill="#0aaac0"/>
<circle cx="68.48" cy="261.03" r="1.9" fill="#0aaac0"/>
<circle cx="71.94" cy="261.03" r="1.9" fill="#0aaac0"/>
<circle cx="75.01" cy="261.03" r="1.9" fill="#0aaac0"/>
<circle cx="78.08" cy="261.03" r="1.9" fill="#0aaac0"/>
<circle cx="65.49" cy="264.10" r="1.9" fill="#0aaac0"/>
<circle cx="69.48" cy="264.10" r="1.9" fill="#0aaac0"/>
<circle cx="73.47" cy="264.10" r="1.9" fill="#0aaac0"/>
<circle cx="77.77" cy="264.10" r="1.9" fill="#0aaac0"/>
<circle cx="66.87" cy="266.78" r="1.9" fill="#0aaac0"/>
<circle cx="70.71" cy="266.78" r="1.9" fill="#0aaac0"/>
<circle cx="74.70" cy="266.78" r="1.9" fill="#0aaac0"/>
<circle cx="78.85" cy="266.78" r="1.9" fill="#0aaac0"/>
<circle cx="74.09" cy="268.71" r="1.9" fill="#0aaac0"/>
<circle cx="78.39" cy="268.71" r="1.9" fill="#0aaac0"/>
<circle cx="68.41" cy="272.55" r="1.9" fill="#0aaac0"/>
<circle cx="72.25" cy="272.55" r="1.9" fill="#0aaac0"/>
<circle cx="76.24" cy="272.55" r="1.9" fill="#0aaac0"/>
<circle cx="66.56" cy="275.62" r="1.9" fill="#0aaac0"/>
<circle cx="70.40" cy="275.62" r="1.9" fill="#0aaac0"/>
<circle cx="74.24" cy="275.62" r="1.9" fill="#0aaac0"/>
<circle cx="78.39" cy="275.62" r="1.9" fill="#0aaac0"/>
<circle cx="65.18" cy="278.29" r="1.9" fill="#0aaac0"/>
<circle cx="69.17" cy="278.29" r="1.9" fill="#0aaac0"/>
<circle cx="73.01" cy="278.29" r="1.9" fill="#0aaac0"/>
<circle cx="76.85" cy="278.29" r="1.9" fill="#0aaac0"/>
<circle cx="67.64" cy="280.99" r="1.9" fill="#0aaac0"/>
<circle cx="71.63" cy="280.99" r="1.9" fill="#0aaac0"/>
<circle cx="76.08" cy="280.99" r="1.9" fill="#0aaac0"/>
<circle cx="76.93" cy="282.90" r="1.9" fill="#0aaac0"/>
<circle cx="75.01" cy="244.51" r="1.9" fill="#0aaac0"/>
<circle cx="68.71" cy="242.51" r="1.9" fill="#0aaac0"/>
<circle cx="72.25" cy="239.14" r="1.9" fill="#0aaac0"/>
<circle cx="75.32" cy="236.37" r="1.9" fill="#0aaac0"/>
<circle cx="68.41" cy="234.53" r="1.9" fill="#0aaac0"/>
<circle cx="71.48" cy="232.23" r="1.9" fill="#0aaac0"/>
<circle cx="71.79" cy="228.08" r="1.9" fill="#0aaac0"/>
<circle cx="71.79" cy="223.47" r="1.9" fill="#0aaac0"/>
<line x1="63.48" y1="258.79" x2="79.48" y2="258.79" stroke="#0aaac0" stroke-width="1.05"/>
<line x1="67.28" y1="257.56" x2="75.68" y2="257.56" stroke="#0aaac0" stroke-width="1.05"/>
<line x1="67.28" y1="260.02" x2="75.68" y2="260.02" stroke="#0aaac0" stroke-width="1.05"/>
<line x1="71.48" y1="257.56" x2="71.48" y2="260.02" stroke="#0aaac0" stroke-width="1.05"/>
<circle cx="89.90" cy="249.88" r="1.9" fill="#111"/>
<circle cx="93.36" cy="252.59" r="1.9" fill="#111"/>
<circle cx="89.52" cy="254.49" r="1.9" fill="#111"/>
<circle cx="86.07" cy="256.03" r="1.9" fill="#111"/>
<circle cx="93.74" cy="257.56" r="1.9" fill="#111"/>
<circle cx="96.81" cy="260.26" r="1.9" fill="#111"/>
<circle cx="83.38" cy="261.40" r="1.9" fill="#111"/>
<circle cx="86.83" cy="261.03" r="1.9" fill="#111"/>
<circle cx="90.29" cy="259.87" r="1.9" fill="#111"/>
<circle cx="92.59" cy="261.80" r="1.9" fill="#111"/>
<circle cx="84.53" cy="264.47" r="1.9" fill="#111"/>
<circle cx="87.98" cy="264.47" r="1.9" fill="#111"/>
<circle cx="94.51" cy="264.47" r="1.9" fill="#111"/>
<circle cx="97.58" cy="264.47" r="1.9" fill="#111"/>
<circle cx="83.38" cy="267.17" r="1.9" fill="#111"/>
<circle cx="86.45" cy="267.17" r="1.9" fill="#111"/>
<circle cx="92.98" cy="267.17" r="1.9" fill="#111"/>
<circle cx="96.43" cy="267.17" r="1.9" fill="#111"/>
<circle cx="84.53" cy="269.85" r="1.9" fill="#111"/>
<circle cx="87.60" cy="269.85" r="1.9" fill="#111"/>
<circle cx="91.06" cy="269.85" r="1.9" fill="#111"/>
<circle cx="97.20" cy="269.85" r="1.9" fill="#111"/>
<circle cx="85.68" cy="272.55" r="1.9" fill="#111"/>
<circle cx="89.14" cy="272.55" r="1.9" fill="#111"/>
<circle cx="92.59" cy="272.55" r="1.9" fill="#111"/>
<circle cx="96.05" cy="272.55" r="1.9" fill="#111"/>
<circle cx="83.38" cy="275.22" r="1.9" fill="#111"/>
<circle cx="90.29" cy="275.22" r="1.9" fill="#111"/>
<circle cx="95.66" cy="275.22" r="1.9" fill="#111"/>
<circle cx="84.91" cy="277.92" r="1.9" fill="#111"/>
<circle cx="90.29" cy="277.92" r="1.9" fill="#111"/>
<circle cx="93.36" cy="277.92" r="1.9" fill="#111"/>
<circle cx="96.81" cy="277.92" r="1.9" fill="#111"/>
<circle cx="83.38" cy="280.60" r="1.9" fill="#111"/>
<circle cx="87.60" cy="280.60" r="1.9" fill="#111"/>
<circle cx="92.59" cy="280.60" r="1.9" fill="#111"/>
<circle cx="96.43" cy="280.60" r="1.9" fill="#111"/>
<circle cx="86.07" cy="282.90" r="1.9" fill="#111"/>
<circle cx="89.52" cy="282.90" r="1.9" fill="#111"/>
<circle cx="93.36" cy="282.90" r="1.9" fill="#111"/>
<circle cx="107.95" cy="240.46" r="1.9" fill="#ec2a8a"/>
<circle cx="107.95" cy="248.35" r="1.9" fill="#ec2a8a"/>
<circle cx="104.49" cy="252.19" r="1.9" fill="#ec2a8a"/>
<circle cx="107.95" cy="252.96" r="1.9" fill="#ec2a8a"/>
<circle cx="111.40" cy="251.42" r="1.9" fill="#ec2a8a"/>
<circle cx="113.32" cy="256.43" r="1.9" fill="#ec2a8a"/>
<circle cx="106.41" cy="258.73" r="1.9" fill="#ec2a8a"/>
<circle cx="109.87" cy="259.87" r="1.9" fill="#ec2a8a"/>
<circle cx="111.79" cy="260.63" r="1.9" fill="#ec2a8a"/>
<circle cx="103.34" cy="260.63" r="1.9" fill="#ec2a8a"/>
<circle cx="101.42" cy="262.57" r="1.9" fill="#ec2a8a"/>
<circle cx="113.70" cy="264.47" r="1.9" fill="#ec2a8a"/>
<circle cx="109.10" cy="265.64" r="1.9" fill="#ec2a8a"/>
<circle cx="105.64" cy="264.10" r="1.9" fill="#ec2a8a"/>
<circle cx="101.04" cy="267.17" r="1.9" fill="#ec2a8a"/>
<circle cx="104.49" cy="267.17" r="1.9" fill="#ec2a8a"/>
<circle cx="107.95" cy="267.17" r="1.9" fill="#ec2a8a"/>
<circle cx="111.79" cy="267.17" r="1.9" fill="#ec2a8a"/>
<circle cx="101.80" cy="270.25" r="1.9" fill="#ec2a8a"/>
<circle cx="105.72" cy="270.25" r="1.9" fill="#ec2a8a"/>
<circle cx="110.02" cy="270.25" r="1.9" fill="#ec2a8a"/>
<circle cx="114.32" cy="270.25" r="1.9" fill="#ec2a8a"/>
<circle cx="103.57" cy="272.15" r="1.9" fill="#ec2a8a"/>
<circle cx="107.87" cy="272.15" r="1.9" fill="#ec2a8a"/>
<circle cx="112.48" cy="272.15" r="1.9" fill="#ec2a8a"/>
<circle cx="101.04" cy="274.45" r="1.9" fill="#ec2a8a"/>
<circle cx="104.88" cy="274.45" r="1.9" fill="#ec2a8a"/>
<circle cx="111.79" cy="274.45" r="1.9" fill="#ec2a8a"/>
<circle cx="114.09" cy="274.45" r="1.9" fill="#ec2a8a"/>
<circle cx="101.80" cy="278.29" r="1.9" fill="#ec2a8a"/>
<circle cx="105.72" cy="278.29" r="1.9" fill="#ec2a8a"/>
<circle cx="109.87" cy="278.29" r="1.9" fill="#ec2a8a"/>
<circle cx="113.86" cy="278.29" r="1.9" fill="#ec2a8a"/>
<circle cx="103.57" cy="280.23" r="1.9" fill="#ec2a8a"/>
<circle cx="107.87" cy="280.23" r="1.9" fill="#ec2a8a"/>
<circle cx="112.78" cy="280.23" r="1.9" fill="#ec2a8a"/>
<circle cx="103.34" cy="282.90" r="1.9" fill="#ec2a8a"/>
<circle cx="106.41" cy="282.90" r="1.9" fill="#ec2a8a"/>
<circle cx="109.48" cy="282.90" r="1.9" fill="#ec2a8a"/>
<line x1="99.72" y1="269.54" x2="115.72" y2="269.54" stroke="#ec2a8a" stroke-width="1.05"/>
<line x1="103.52" y1="268.00" x2="111.92" y2="268.00" stroke="#ec2a8a" stroke-width="1.05"/>
<line x1="103.52" y1="271.07" x2="111.92" y2="271.07" stroke="#ec2a8a" stroke-width="1.05"/>
<line x1="107.72" y1="268.00" x2="107.72" y2="271.07" stroke="#ec2a8a" stroke-width="1.05"/>
<circle cx="143.59" cy="283.21" r="1.9" fill="#111"/>
<circle cx="144.82" cy="280.90" r="1.9" fill="#111"/>
<circle cx="142.52" cy="278.75" r="1.9" fill="#111"/>
<circle cx="147.12" cy="278.29" r="1.9" fill="#111"/>
<circle cx="137.91" cy="276.30" r="1.9" fill="#111"/>
<circle cx="141.75" cy="275.99" r="1.9" fill="#111"/>
<circle cx="150.96" cy="275.53" r="1.9" fill="#111"/>
<circle cx="145.59" cy="273.69" r="1.9" fill="#111"/>
<circle cx="140.21" cy="272.92" r="1.9" fill="#111"/>
<circle cx="138.68" cy="270.92" r="1.9" fill="#111"/>
<circle cx="146.36" cy="270.61" r="1.9" fill="#111"/>
<circle cx="142.52" cy="266.47" r="1.9" fill="#111"/>
<circle cx="144.82" cy="264.78" r="1.9" fill="#111"/>
<circle cx="149.43" cy="263.24" r="1.9" fill="#111"/>
<circle cx="140.21" cy="260.33" r="1.9" fill="#111"/>
<circle cx="147.89" cy="259.87" r="1.9" fill="#111"/>
<circle cx="144.05" cy="259.87" r="1.9" fill="#111"/>
<circle cx="140.98" cy="257.26" r="1.9" fill="#111"/>
<circle cx="146.36" cy="256.33" r="1.9" fill="#111"/>
<circle cx="138.68" cy="252.96" r="1.9" fill="#111"/>
<circle cx="144.82" cy="252.96" r="1.9" fill="#111"/>
<circle cx="149.43" cy="252.96" r="1.9" fill="#111"/>
<circle cx="135.61" cy="249.12" r="1.9" fill="#111"/>
<circle cx="140.21" cy="249.12" r="1.9" fill="#111"/>
<circle cx="144.82" cy="249.12" r="1.9" fill="#111"/>
<circle cx="149.43" cy="249.12" r="1.9" fill="#111"/>
<circle cx="152.50" cy="249.88" r="1.9" fill="#111"/>
<circle cx="139.45" cy="246.81" r="1.9" fill="#111"/>
<circle cx="147.12" cy="246.51" r="1.9" fill="#111"/>
<circle cx="143.28" cy="244.51" r="1.9" fill="#111"/>
<circle cx="137.14" cy="243.44" r="1.9" fill="#111"/>
<circle cx="146.36" cy="242.98" r="1.9" fill="#111"/>
<circle cx="150.96" cy="242.21" r="1.9" fill="#111"/>
<circle cx="140.98" cy="240.67" r="1.9" fill="#111"/>
<circle cx="144.82" cy="238.37" r="1.9" fill="#111"/>
<line x1="136.36" y1="258.33" x2="152.36" y2="258.33" stroke="#111" stroke-width="1.05"/>
<line x1="140.16" y1="256.03" x2="148.56" y2="256.03" stroke="#111" stroke-width="1.05"/>
<line x1="140.16" y1="260.63" x2="148.56" y2="260.63" stroke="#111" stroke-width="1.05"/>
<line x1="144.36" y1="256.03" x2="144.36" y2="260.63" stroke="#111" stroke-width="1.05"/>
<circle cx="164.01" cy="272.92" r="1.9" fill="#0aaac0"/>
<circle cx="160.94" cy="270.61" r="1.9" fill="#0aaac0"/>
<circle cx="162.48" cy="266.78" r="1.9" fill="#0aaac0"/>
<circle cx="158.64" cy="263.70" r="1.9" fill="#0aaac0"/>
<circle cx="164.78" cy="262.94" r="1.9" fill="#0aaac0"/>
<circle cx="162.48" cy="262.17" r="1.9" fill="#0aaac0"/>
<circle cx="167.85" cy="256.79" r="1.9" fill="#0aaac0"/>
<circle cx="157.10" cy="256.03" r="1.9" fill="#0aaac0"/>
<circle cx="165.55" cy="257.56" r="1.9" fill="#0aaac0"/>
<circle cx="160.17" cy="254.49" r="1.9" fill="#0aaac0"/>
<circle cx="164.01" cy="253.72" r="1.9" fill="#0aaac0"/>
<circle cx="157.87" cy="252.19" r="1.9" fill="#0aaac0"/>
<circle cx="161.71" cy="251.42" r="1.9" fill="#0aaac0"/>
<circle cx="167.08" cy="250.65" r="1.9" fill="#0aaac0"/>
<circle cx="156.34" cy="249.12" r="1.9" fill="#0aaac0"/>
<circle cx="160.17" cy="248.35" r="1.9" fill="#0aaac0"/>
<circle cx="164.01" cy="248.04" r="1.9" fill="#0aaac0"/>
<circle cx="167.85" cy="248.35" r="1.9" fill="#0aaac0"/>
<circle cx="155.57" cy="243.74" r="1.9" fill="#0aaac0"/>
<circle cx="158.64" cy="244.05" r="1.9" fill="#0aaac0"/>
<circle cx="161.71" cy="243.74" r="1.9" fill="#0aaac0"/>
<circle cx="164.78" cy="244.05" r="1.9" fill="#0aaac0"/>
<circle cx="167.85" cy="243.74" r="1.9" fill="#0aaac0"/>
<circle cx="170.92" cy="243.74" r="1.9" fill="#0aaac0"/>
<circle cx="157.87" cy="246.05" r="1.9" fill="#0aaac0"/>
<circle cx="165.55" cy="246.05" r="1.9" fill="#0aaac0"/>
<circle cx="157.10" cy="239.90" r="1.9" fill="#0aaac0"/>
<circle cx="160.94" cy="240.67" r="1.9" fill="#0aaac0"/>
<circle cx="164.78" cy="239.90" r="1.9" fill="#0aaac0"/>
<circle cx="169.39" cy="239.44" r="1.9" fill="#0aaac0"/>
<circle cx="155.57" cy="237.91" r="1.9" fill="#0aaac0"/>
<circle cx="163.25" cy="237.91" r="1.9" fill="#0aaac0"/>
<circle cx="159.41" cy="236.07" r="1.9" fill="#0aaac0"/>
<circle cx="166.32" cy="235.60" r="1.9" fill="#0aaac0"/>
<circle cx="157.10" cy="234.53" r="1.9" fill="#0aaac0"/>
<circle cx="161.71" cy="232.23" r="1.9" fill="#0aaac0"/>
<circle cx="164.01" cy="230.69" r="1.9" fill="#0aaac0"/>
<circle cx="160.17" cy="217.95" r="1.9" fill="#0aaac0"/>
<circle cx="164.78" cy="218.41" r="1.9" fill="#0aaac0"/>
<circle cx="162.48" cy="221.94" r="1.9" fill="#0aaac0"/>
<circle cx="162.48" cy="209.65" r="1.9" fill="#0aaac0"/>
<line x1="154.48" y1="244.05" x2="170.48" y2="244.05" stroke="#0aaac0" stroke-width="1.05"/>
<line x1="158.28" y1="242.51" x2="166.68" y2="242.51" stroke="#0aaac0" stroke-width="1.05"/>
<line x1="158.28" y1="245.59" x2="166.68" y2="245.59" stroke="#0aaac0" stroke-width="1.05"/>
<line x1="162.48" y1="242.51" x2="162.48" y2="245.59" stroke="#0aaac0" stroke-width="1.05"/>
<circle cx="185.51" cy="277.52" r="1.9" fill="#111"/>
<circle cx="182.44" cy="277.52" r="1.9" fill="#111"/>
<circle cx="180.14" cy="274.15" r="1.9" fill="#111"/>
<circle cx="176.30" cy="275.22" r="1.9" fill="#111"/>
<circle cx="173.69" cy="276.76" r="1.9" fill="#111"/>
<circle cx="177.07" cy="269.85" r="1.9" fill="#111"/>
<circle cx="183.21" cy="269.08" r="1.9" fill="#111"/>
<circle cx="179.37" cy="266.78" r="1.9" fill="#111"/>
<circle cx="173.99" cy="264.01" r="1.9" fill="#111"/>
<circle cx="185.51" cy="265.24" r="1.9" fill="#111"/>
<circle cx="177.07" cy="262.17" r="1.9" fill="#111"/>
<circle cx="183.21" cy="261.40" r="1.9" fill="#111"/>
<circle cx="173.99" cy="259.10" r="1.9" fill="#111"/>
<circle cx="180.14" cy="259.10" r="1.9" fill="#111"/>
<circle cx="186.28" cy="258.79" r="1.9" fill="#111"/>
<circle cx="177.07" cy="256.79" r="1.9" fill="#111"/>
<circle cx="183.21" cy="256.33" r="1.9" fill="#111"/>
<circle cx="172.46" cy="254.49" r="1.9" fill="#111"/>
<circle cx="178.60" cy="254.18" r="1.9" fill="#111"/>
<circle cx="184.74" cy="253.72" r="1.9" fill="#111"/>
<circle cx="175.53" cy="251.42" r="1.9" fill="#111"/>
<circle cx="181.67" cy="251.42" r="1.9" fill="#111"/>
<circle cx="187.05" cy="249.12" r="1.9" fill="#111"/>
<circle cx="177.07" cy="248.35" r="1.9" fill="#111"/>
<circle cx="183.21" cy="248.66" r="1.9" fill="#111"/>
<circle cx="174.76" cy="246.05" r="1.9" fill="#111"/>
<circle cx="180.14" cy="246.05" r="1.9" fill="#111"/>
<circle cx="183.98" cy="243.74" r="1.9" fill="#111"/>
<circle cx="178.60" cy="242.21" r="1.9" fill="#111"/>
<circle cx="182.44" cy="241.44" r="1.9" fill="#111"/>
<circle cx="180.14" cy="238.37" r="1.9" fill="#111"/>
<circle cx="180.14" cy="235.30" r="1.9" fill="#111"/>
<circle cx="180.14" cy="232.69" r="1.9" fill="#111"/>
<circle cx="180.14" cy="229.92" r="1.9" fill="#111"/>
<circle cx="180.14" cy="227.16" r="1.9" fill="#111"/>
<line x1="172.29" y1="254.49" x2="188.29" y2="254.49" stroke="#111" stroke-width="1.05"/>
<line x1="176.09" y1="252.96" x2="184.49" y2="252.96" stroke="#111" stroke-width="1.05"/>
<line x1="176.09" y1="256.33" x2="184.49" y2="256.33" stroke="#111" stroke-width="1.05"/>
<line x1="180.29" y1="252.96" x2="180.29" y2="256.33" stroke="#111" stroke-width="1.05"/>
<circle cx="198.56" cy="283.67" r="1.9" fill="#ec2a8a"/>
<circle cx="193.96" cy="275.99" r="1.9" fill="#ec2a8a"/>
<circle cx="197.03" cy="277.52" r="1.9" fill="#ec2a8a"/>
<circle cx="200.10" cy="278.60" r="1.9" fill="#ec2a8a"/>
<circle cx="203.17" cy="278.75" r="1.9" fill="#ec2a8a"/>
<circle cx="199.33" cy="273.69" r="1.9" fill="#ec2a8a"/>
<circle cx="197.03" cy="270.61" r="1.9" fill="#ec2a8a"/>
<circle cx="200.10" cy="272.92" r="1.9" fill="#ec2a8a"/>
<circle cx="198.56" cy="264.47" r="1.9" fill="#ec2a8a"/>
<circle cx="203.17" cy="259.87" r="1.9" fill="#ec2a8a"/>
<circle cx="196.26" cy="261.40" r="1.9" fill="#ec2a8a"/>
<circle cx="193.96" cy="257.56" r="1.9" fill="#ec2a8a"/>
<circle cx="200.10" cy="256.79" r="1.9" fill="#ec2a8a"/>
<circle cx="197.03" cy="254.49" r="1.9" fill="#ec2a8a"/>
<circle cx="201.63" cy="255.26" r="1.9" fill="#ec2a8a"/>
<circle cx="195.49" cy="250.65" r="1.9" fill="#ec2a8a"/>
<circle cx="199.33" cy="251.42" r="1.9" fill="#ec2a8a"/>
<circle cx="197.79" cy="248.04" r="1.9" fill="#ec2a8a"/>
<circle cx="202.40" cy="248.35" r="1.9" fill="#ec2a8a"/>
<circle cx="192.42" cy="242.98" r="1.9" fill="#ec2a8a"/>
<circle cx="196.26" cy="243.44" r="1.9" fill="#ec2a8a"/>
<circle cx="200.10" cy="242.21" r="1.9" fill="#ec2a8a"/>
<circle cx="204.70" cy="243.44" r="1.9" fill="#ec2a8a"/>
<circle cx="203.17" cy="237.91" r="1.9" fill="#ec2a8a"/>
<circle cx="193.19" cy="238.37" r="1.9" fill="#ec2a8a"/>
<circle cx="198.56" cy="235.30" r="1.9" fill="#ec2a8a"/>
<circle cx="200.87" cy="233.76" r="1.9" fill="#ec2a8a"/>
<circle cx="198.56" cy="230.69" r="1.9" fill="#ec2a8a"/>
<circle cx="194.72" cy="226.08" r="1.9" fill="#ec2a8a"/>
<circle cx="198.56" cy="223.78" r="1.9" fill="#ec2a8a"/>
<circle cx="201.63" cy="226.55" r="1.9" fill="#ec2a8a"/>
<circle cx="196.26" cy="228.39" r="1.9" fill="#ec2a8a"/>
<line x1="190.56" y1="251.42" x2="206.56" y2="251.42" stroke="#ec2a8a" stroke-width="1.05"/>
<line x1="194.36" y1="249.12" x2="202.76" y2="249.12" stroke="#ec2a8a" stroke-width="1.05"/>
<line x1="194.36" y1="254.18" x2="202.76" y2="254.18" stroke="#ec2a8a" stroke-width="1.05"/>
<line x1="198.56" y1="249.12" x2="198.56" y2="254.18" stroke="#ec2a8a" stroke-width="1.05"/>
<circle cx="234.82" cy="281.06" r="1.9" fill="#111"/>
<circle cx="234.51" cy="276.76" r="1.9" fill="#111"/>
<circle cx="232.52" cy="272.15" r="1.9" fill="#111"/>
<circle cx="236.36" cy="272.15" r="1.9" fill="#111"/>
<circle cx="233.28" cy="268.31" r="1.9" fill="#111"/>
<circle cx="228.68" cy="265.24" r="1.9" fill="#111"/>
<circle cx="232.52" cy="266.01" r="1.9" fill="#111"/>
<circle cx="236.36" cy="266.01" r="1.9" fill="#111"/>
<circle cx="240.19" cy="266.01" r="1.9" fill="#111"/>
<circle cx="227.91" cy="260.94" r="1.9" fill="#111"/>
<circle cx="231.75" cy="261.40" r="1.9" fill="#111"/>
<circle cx="235.59" cy="260.94" r="1.9" fill="#111"/>
<circle cx="239.43" cy="261.40" r="1.9" fill="#111"/>
<circle cx="242.50" cy="261.40" r="1.9" fill="#111"/>
<circle cx="227.91" cy="256.79" r="1.9" fill="#111"/>
<circle cx="231.75" cy="257.26" r="1.9" fill="#111"/>
<circle cx="236.36" cy="256.79" r="1.9" fill="#111"/>
<circle cx="240.19" cy="256.79" r="1.9" fill="#111"/>
<circle cx="230.21" cy="252.96" r="1.9" fill="#111"/>
<circle cx="234.82" cy="251.42" r="1.9" fill="#111"/>
<circle cx="239.43" cy="253.26" r="1.9" fill="#111"/>
<circle cx="227.14" cy="247.89" r="1.9" fill="#111"/>
<circle cx="234.82" cy="246.81" r="1.9" fill="#111"/>
<circle cx="239.43" cy="245.59" r="1.9" fill="#111"/>
<circle cx="243.26" cy="246.81" r="1.9" fill="#111"/>
<circle cx="231.75" cy="242.67" r="1.9" fill="#111"/>
<circle cx="236.36" cy="243.74" r="1.9" fill="#111"/>
<circle cx="227.91" cy="239.90" r="1.9" fill="#111"/>
<circle cx="234.82" cy="239.44" r="1.9" fill="#111"/>
<circle cx="238.66" cy="239.90" r="1.9" fill="#111"/>
<circle cx="234.82" cy="234.84" r="1.9" fill="#111"/>
<circle cx="234.82" cy="230.69" r="1.9" fill="#111"/>
<circle cx="234.51" cy="224.09" r="1.9" fill="#111"/>
<line x1="226.67" y1="253.72" x2="242.67" y2="253.72" stroke="#111" stroke-width="1.05"/>
<line x1="230.47" y1="251.88" x2="238.87" y2="251.88" stroke="#111" stroke-width="1.05"/>
<line x1="230.47" y1="255.72" x2="238.87" y2="255.72" stroke="#111" stroke-width="1.05"/>
<line x1="234.67" y1="251.88" x2="234.67" y2="255.72" stroke="#111" stroke-width="1.05"/>
<circle cx="252.48" cy="282.59" r="1.9" fill="#0aaac0"/>
<circle cx="252.48" cy="277.98" r="1.9" fill="#0aaac0"/>
<circle cx="249.41" cy="274.45" r="1.9" fill="#0aaac0"/>
<circle cx="255.55" cy="274.91" r="1.9" fill="#0aaac0"/>
<circle cx="252.48" cy="272.92" r="1.9" fill="#0aaac0"/>
<circle cx="247.87" cy="267.24" r="1.9" fill="#0aaac0"/>
<circle cx="250.94" cy="268.00" r="1.9" fill="#0aaac0"/>
<circle cx="254.78" cy="268.31" r="1.9" fill="#0aaac0"/>
<circle cx="258.62" cy="267.24" r="1.9" fill="#0aaac0"/>
<circle cx="247.10" cy="259.10" r="1.9" fill="#0aaac0"/>
<circle cx="250.94" cy="259.10" r="1.9" fill="#0aaac0"/>
<circle cx="258.62" cy="259.87" r="1.9" fill="#0aaac0"/>
<circle cx="255.55" cy="257.56" r="1.9" fill="#0aaac0"/>
<circle cx="246.34" cy="255.26" r="1.9" fill="#0aaac0"/>
<circle cx="250.17" cy="254.49" r="1.9" fill="#0aaac0"/>
<circle cx="254.01" cy="255.26" r="1.9" fill="#0aaac0"/>
<circle cx="257.85" cy="252.96" r="1.9" fill="#0aaac0"/>
<circle cx="247.10" cy="250.65" r="1.9" fill="#0aaac0"/>
<circle cx="252.48" cy="249.88" r="1.9" fill="#0aaac0"/>
<circle cx="257.08" cy="249.12" r="1.9" fill="#0aaac0"/>
<circle cx="248.64" cy="247.58" r="1.9" fill="#0aaac0"/>
<circle cx="254.01" cy="246.81" r="1.9" fill="#0aaac0"/>
<circle cx="246.34" cy="244.51" r="1.9" fill="#0aaac0"/>
<circle cx="250.17" cy="243.74" r="1.9" fill="#0aaac0"/>
<circle cx="257.85" cy="243.74" r="1.9" fill="#0aaac0"/>
<circle cx="260.92" cy="242.21" r="1.9" fill="#0aaac0"/>
<circle cx="254.01" cy="242.21" r="1.9" fill="#0aaac0"/>
<circle cx="246.34" cy="239.90" r="1.9" fill="#0aaac0"/>
<circle cx="250.17" cy="239.90" r="1.9" fill="#0aaac0"/>
<circle cx="254.01" cy="239.14" r="1.9" fill="#0aaac0"/>
<circle cx="257.85" cy="238.83" r="1.9" fill="#0aaac0"/>
<circle cx="260.16" cy="237.60" r="1.9" fill="#0aaac0"/>
<circle cx="247.10" cy="237.60" r="1.9" fill="#0aaac0"/>
<circle cx="250.94" cy="236.07" r="1.9" fill="#0aaac0"/>
<circle cx="254.78" cy="234.53" r="1.9" fill="#0aaac0"/>
<circle cx="250.17" cy="232.99" r="1.9" fill="#0aaac0"/>
<circle cx="254.01" cy="233.76" r="1.9" fill="#0aaac0"/>
<circle cx="252.79" cy="225.78" r="1.9" fill="#0aaac0"/>
<line x1="244.48" y1="252.19" x2="260.48" y2="252.19" stroke="#0aaac0" stroke-width="1.05"/>
<line x1="248.28" y1="250.65" x2="256.68" y2="250.65" stroke="#0aaac0" stroke-width="1.05"/>
<line x1="248.28" y1="253.72" x2="256.68" y2="253.72" stroke="#0aaac0" stroke-width="1.05"/>
<line x1="252.48" y1="250.65" x2="252.48" y2="253.72" stroke="#0aaac0" stroke-width="1.05"/>
<circle cx="272.44" cy="284.13" r="1.9" fill="#111"/>
<circle cx="269.37" cy="282.44" r="1.9" fill="#111"/>
<circle cx="271.67" cy="278.75" r="1.9" fill="#111"/>
<circle cx="269.37" cy="276.76" r="1.9" fill="#111"/>
<circle cx="274.74" cy="269.85" r="1.9" fill="#111"/>
<circle cx="270.90" cy="269.85" r="1.9" fill="#111"/>
<circle cx="267.83" cy="269.54" r="1.9" fill="#111"/>
<circle cx="273.21" cy="265.55" r="1.9" fill="#111"/>
<circle cx="269.37" cy="264.47" r="1.9" fill="#111"/>
<circle cx="270.90" cy="261.40" r="1.9" fill="#111"/>
<circle cx="267.07" cy="257.10" r="1.9" fill="#111"/>
<circle cx="270.90" cy="257.56" r="1.9" fill="#111"/>
<circle cx="274.74" cy="257.26" r="1.9" fill="#111"/>
<circle cx="273.21" cy="253.72" r="1.9" fill="#111"/>
<circle cx="267.07" cy="250.65" r="1.9" fill="#111"/>
<circle cx="270.14" cy="251.42" r="1.9" fill="#111"/>
<circle cx="274.74" cy="249.88" r="1.9" fill="#111"/>
<circle cx="270.14" cy="247.58" r="1.9" fill="#111"/>
<circle cx="273.98" cy="246.81" r="1.9" fill="#111"/>
<circle cx="265.53" cy="244.05" r="1.9" fill="#111"/>
<circle cx="270.14" cy="243.74" r="1.9" fill="#111"/>
<circle cx="277.05" cy="242.98" r="1.9" fill="#111"/>
<circle cx="264.76" cy="239.14" r="1.9" fill="#111"/>
<circle cx="268.60" cy="239.44" r="1.9" fill="#111"/>
<circle cx="273.21" cy="239.90" r="1.9" fill="#111"/>
<circle cx="276.28" cy="236.83" r="1.9" fill="#111"/>
<circle cx="270.90" cy="236.07" r="1.9" fill="#111"/>
<circle cx="264.76" cy="231.46" r="1.9" fill="#111"/>
<circle cx="268.60" cy="230.23" r="1.9" fill="#111"/>
<circle cx="273.98" cy="231.15" r="1.9" fill="#111"/>
<circle cx="267.07" cy="229.16" r="1.9" fill="#111"/>
<circle cx="273.21" cy="228.08" r="1.9" fill="#111"/>
<circle cx="270.90" cy="222.25" r="1.9" fill="#111"/>
<line x1="262.90" y1="250.65" x2="278.90" y2="250.65" stroke="#111" stroke-width="1.05"/>
<line x1="266.70" y1="248.81" x2="275.10" y2="248.81" stroke="#111" stroke-width="1.05"/>
<line x1="266.70" y1="252.65" x2="275.10" y2="252.65" stroke="#111" stroke-width="1.05"/>
<line x1="270.90" y1="248.81" x2="270.90" y2="252.65" stroke="#111" stroke-width="1.05"/>
<circle cx="288.56" cy="281.67" r="1.9" fill="#ec2a8a"/>
<circle cx="287.03" cy="277.52" r="1.9" fill="#ec2a8a"/>
<circle cx="289.33" cy="274.45" r="1.9" fill="#ec2a8a"/>
<circle cx="284.72" cy="270.92" r="1.9" fill="#ec2a8a"/>
<circle cx="292.40" cy="270.61" r="1.9" fill="#ec2a8a"/>
<circle cx="288.56" cy="269.85" r="1.9" fill="#ec2a8a"/>
<circle cx="287.03" cy="265.55" r="1.9" fill="#ec2a8a"/>
<circle cx="290.87" cy="266.78" r="1.9" fill="#ec2a8a"/>
<circle cx="283.96" cy="259.87" r="1.9" fill="#ec2a8a"/>
<circle cx="287.79" cy="260.63" r="1.9" fill="#ec2a8a"/>
<circle cx="292.40" cy="260.94" r="1.9" fill="#ec2a8a"/>
<circle cx="286.26" cy="262.94" r="1.9" fill="#ec2a8a"/>
<circle cx="283.96" cy="254.49" r="1.9" fill="#ec2a8a"/>
<circle cx="288.56" cy="253.72" r="1.9" fill="#ec2a8a"/>
<circle cx="292.40" cy="254.49" r="1.9" fill="#ec2a8a"/>
<circle cx="283.19" cy="248.04" r="1.9" fill="#ec2a8a"/>
<circle cx="287.03" cy="248.35" r="1.9" fill="#ec2a8a"/>
<circle cx="291.63" cy="247.58" r="1.9" fill="#ec2a8a"/>
<circle cx="294.70" cy="248.35" r="1.9" fill="#ec2a8a"/>
<circle cx="287.03" cy="245.28" r="1.9" fill="#ec2a8a"/>
<circle cx="292.40" cy="244.51" r="1.9" fill="#ec2a8a"/>
<circle cx="289.33" cy="239.90" r="1.9" fill="#ec2a8a"/>
<circle cx="284.72" cy="238.37" r="1.9" fill="#ec2a8a"/>
<circle cx="290.87" cy="236.83" r="1.9" fill="#ec2a8a"/>
<circle cx="295.47" cy="237.60" r="1.9" fill="#ec2a8a"/>
<circle cx="287.79" cy="234.53" r="1.9" fill="#ec2a8a"/>
<circle cx="283.96" cy="232.23" r="1.9" fill="#ec2a8a"/>
<circle cx="288.87" cy="224.55" r="1.9" fill="#ec2a8a"/>
<circle cx="288.87" cy="221.17" r="1.9" fill="#ec2a8a"/>
<circle cx="288.87" cy="203.82" r="1.9" fill="#ec2a8a"/>
<line x1="280.87" y1="251.42" x2="296.87" y2="251.42" stroke="#ec2a8a" stroke-width="1.05"/>
<line x1="284.67" y1="249.12" x2="293.07" y2="249.12" stroke="#ec2a8a" stroke-width="1.05"/>
<line x1="284.67" y1="253.42" x2="293.07" y2="253.42" stroke="#ec2a8a" stroke-width="1.05"/>
<line x1="288.87" y1="249.12" x2="288.87" y2="253.42" stroke="#ec2a8a" stroke-width="1.05"/>
<circle cx="321.75" cy="282.59" r="1.9" fill="#111"/>
<circle cx="325.59" cy="281.67" r="1.9" fill="#111"/>
<circle cx="327.89" cy="283.21" r="1.9" fill="#111"/>
<circle cx="330.19" cy="280.60" r="1.9" fill="#111"/>
<circle cx="320.21" cy="277.52" r="1.9" fill="#111"/>
<circle cx="324.82" cy="276.76" r="1.9" fill="#111"/>
<circle cx="328.66" cy="277.52" r="1.9" fill="#111"/>
<circle cx="331.73" cy="272.92" r="1.9" fill="#111"/>
<circle cx="319.45" cy="273.69" r="1.9" fill="#111"/>
<circle cx="323.28" cy="273.69" r="1.9" fill="#111"/>
<circle cx="327.12" cy="274.15" r="1.9" fill="#111"/>
<circle cx="318.68" cy="269.85" r="1.9" fill="#111"/>
<circle cx="322.52" cy="268.62" r="1.9" fill="#111"/>
<circle cx="326.36" cy="268.31" r="1.9" fill="#111"/>
<circle cx="330.19" cy="268.31" r="1.9" fill="#111"/>
<circle cx="324.82" cy="265.24" r="1.9" fill="#111"/>
<circle cx="320.21" cy="263.70" r="1.9" fill="#111"/>
<circle cx="327.89" cy="263.40" r="1.9" fill="#111"/>
<circle cx="325.59" cy="259.87" r="1.9" fill="#111"/>
<circle cx="321.75" cy="257.56" r="1.9" fill="#111"/>
<circle cx="329.43" cy="257.26" r="1.9" fill="#111"/>
<circle cx="317.91" cy="254.49" r="1.9" fill="#111"/>
<circle cx="324.82" cy="255.26" r="1.9" fill="#111"/>
<circle cx="330.19" cy="254.18" r="1.9" fill="#111"/>
<circle cx="334.03" cy="254.18" r="1.9" fill="#111"/>
<circle cx="322.52" cy="252.19" r="1.9" fill="#111"/>
<circle cx="320.98" cy="249.88" r="1.9" fill="#111"/>
<circle cx="325.59" cy="251.42" r="1.9" fill="#111"/>
<circle cx="325.28" cy="246.51" r="1.9" fill="#111"/>
<circle cx="326.36" cy="236.83" r="1.9" fill="#111"/>
<circle cx="323.74" cy="234.53" r="1.9" fill="#111"/>
<circle cx="325.28" cy="229.62" r="1.9" fill="#111"/>
<circle cx="325.28" cy="223.32" r="1.9" fill="#111"/>
<line x1="317.13" y1="260.63" x2="333.13" y2="260.63" stroke="#111" stroke-width="1.05"/>
<line x1="320.93" y1="258.79" x2="329.33" y2="258.79" stroke="#111" stroke-width="1.05"/>
<line x1="320.93" y1="262.63" x2="329.33" y2="262.63" stroke="#111" stroke-width="1.05"/>
<line x1="325.13" y1="258.79" x2="325.13" y2="262.63" stroke="#111" stroke-width="1.05"/>
<circle cx="347.08" cy="282.13" r="1.9" fill="#0aaac0"/>
<circle cx="342.48" cy="280.60" r="1.9" fill="#0aaac0"/>
<circle cx="339.41" cy="278.29" r="1.9" fill="#0aaac0"/>
<circle cx="344.01" cy="278.29" r="1.9" fill="#0aaac0"/>
<circle cx="345.55" cy="274.45" r="1.9" fill="#0aaac0"/>
<circle cx="349.39" cy="274.45" r="1.9" fill="#0aaac0"/>
<circle cx="337.10" cy="273.69" r="1.9" fill="#0aaac0"/>
<circle cx="340.94" cy="273.69" r="1.9" fill="#0aaac0"/>
<circle cx="344.01" cy="269.85" r="1.9" fill="#0aaac0"/>
<circle cx="347.85" cy="270.61" r="1.9" fill="#0aaac0"/>
<circle cx="339.41" cy="269.08" r="1.9" fill="#0aaac0"/>
<circle cx="340.17" cy="265.24" r="1.9" fill="#0aaac0"/>
<circle cx="344.01" cy="266.01" r="1.9" fill="#0aaac0"/>
<circle cx="348.62" cy="263.70" r="1.9" fill="#0aaac0"/>
<circle cx="337.10" cy="262.17" r="1.9" fill="#0aaac0"/>
<circle cx="342.48" cy="261.40" r="1.9" fill="#0aaac0"/>
<circle cx="339.41" cy="258.33" r="1.9" fill="#0aaac0"/>
<circle cx="345.55" cy="259.10" r="1.9" fill="#0aaac0"/>
<circle cx="341.71" cy="254.49" r="1.9" fill="#0aaac0"/>
<circle cx="347.08" cy="253.72" r="1.9" fill="#0aaac0"/>
<circle cx="337.87" cy="251.42" r="1.9" fill="#0aaac0"/>
<circle cx="343.25" cy="250.65" r="1.9" fill="#0aaac0"/>
<circle cx="347.08" cy="250.19" r="1.9" fill="#0aaac0"/>
<circle cx="339.41" cy="248.04" r="1.9" fill="#0aaac0"/>
<circle cx="344.78" cy="247.58" r="1.9" fill="#0aaac0"/>
<circle cx="341.71" cy="242.21" r="1.9" fill="#0aaac0"/>
<circle cx="347.08" cy="241.90" r="1.9" fill="#0aaac0"/>
<circle cx="339.41" cy="239.14" r="1.9" fill="#0aaac0"/>
<circle cx="344.01" cy="238.37" r="1.9" fill="#0aaac0"/>
<circle cx="341.71" cy="232.99" r="1.9" fill="#0aaac0"/>
<circle cx="345.55" cy="234.53" r="1.9" fill="#0aaac0"/>
<circle cx="344.78" cy="220.25" r="1.9" fill="#0aaac0"/>
<circle cx="342.17" cy="221.94" r="1.9" fill="#0aaac0"/>
<circle cx="342.94" cy="205.66" r="1.9" fill="#0aaac0"/>
<line x1="335.25" y1="257.26" x2="351.25" y2="257.26" stroke="#0aaac0" stroke-width="1.05"/>
<line x1="339.05" y1="255.26" x2="347.45" y2="255.26" stroke="#0aaac0" stroke-width="1.05"/>
<line x1="339.05" y1="259.87" x2="347.45" y2="259.87" stroke="#0aaac0" stroke-width="1.05"/>
<line x1="343.25" y1="255.26" x2="343.25" y2="259.87" stroke="#0aaac0" stroke-width="1.05"/>
<circle cx="357.07" cy="283.21" r="1.9" fill="#111"/>
<circle cx="360.90" cy="282.59" r="1.9" fill="#111"/>
<circle cx="364.74" cy="282.13" r="1.9" fill="#111"/>
<circle cx="355.53" cy="279.06" r="1.9" fill="#111"/>
<circle cx="360.14" cy="279.83" r="1.9" fill="#111"/>
<circle cx="364.74" cy="279.06" r="1.9" fill="#111"/>
<circle cx="358.60" cy="277.22" r="1.9" fill="#111"/>
<circle cx="363.21" cy="276.76" r="1.9" fill="#111"/>
<circle cx="368.58" cy="274.91" r="1.9" fill="#111"/>
<circle cx="354.76" cy="274.15" r="1.9" fill="#111"/>
<circle cx="360.14" cy="273.69" r="1.9" fill="#111"/>
<circle cx="364.74" cy="272.92" r="1.9" fill="#111"/>
<circle cx="356.30" cy="270.61" r="1.9" fill="#111"/>
<circle cx="361.67" cy="269.85" r="1.9" fill="#111"/>
<circle cx="366.28" cy="270.61" r="1.9" fill="#111"/>
<circle cx="361.67" cy="266.47" r="1.9" fill="#111"/>
<circle cx="364.74" cy="265.24" r="1.9" fill="#111"/>
<circle cx="355.53" cy="264.47" r="1.9" fill="#111"/>
<circle cx="360.14" cy="262.17" r="1.9" fill="#111"/>
<circle cx="363.98" cy="261.40" r="1.9" fill="#111"/>
<circle cx="357.07" cy="257.56" r="1.9" fill="#111"/>
<circle cx="361.67" cy="256.79" r="1.9" fill="#111"/>
<circle cx="365.51" cy="256.03" r="1.9" fill="#111"/>
<circle cx="355.53" cy="252.96" r="1.9" fill="#111"/>
<circle cx="360.14" cy="253.26" r="1.9" fill="#111"/>
<circle cx="364.74" cy="252.19" r="1.9" fill="#111"/>
<circle cx="367.81" cy="249.12" r="1.9" fill="#111"/>
<circle cx="357.07" cy="249.88" r="1.9" fill="#111"/>
<circle cx="362.44" cy="249.12" r="1.9" fill="#111"/>
<circle cx="359.37" cy="246.05" r="1.9" fill="#111"/>
<circle cx="363.21" cy="245.28" r="1.9" fill="#111"/>
<circle cx="361.67" cy="241.44" r="1.9" fill="#111"/>
<circle cx="361.67" cy="237.91" r="1.9" fill="#111"/>
<circle cx="362.44" cy="229.92" r="1.9" fill="#111"/>
<circle cx="359.83" cy="231.77" r="1.9" fill="#111"/>
<circle cx="365.05" cy="223.01" r="1.9" fill="#111"/>
<circle cx="361.67" cy="224.55" r="1.9" fill="#111"/>
<circle cx="358.29" cy="221.17" r="1.9" fill="#111"/>
<line x1="353.36" y1="257.87" x2="369.36" y2="257.87" stroke="#111" stroke-width="1.05"/>
<line x1="357.16" y1="256.03" x2="365.56" y2="256.03" stroke="#111" stroke-width="1.05"/>
<line x1="357.16" y1="259.87" x2="365.56" y2="259.87" stroke="#111" stroke-width="1.05"/>
<line x1="361.36" y1="256.03" x2="361.36" y2="259.87" stroke="#111" stroke-width="1.05"/>
<circle cx="373.19" cy="283.21" r="1.9" fill="#ec2a8a"/>
<circle cx="377.79" cy="282.59" r="1.9" fill="#ec2a8a"/>
<circle cx="382.40" cy="282.13" r="1.9" fill="#ec2a8a"/>
<circle cx="386.24" cy="281.82" r="1.9" fill="#ec2a8a"/>
<circle cx="375.49" cy="280.60" r="1.9" fill="#ec2a8a"/>
<circle cx="380.10" cy="280.60" r="1.9" fill="#ec2a8a"/>
<circle cx="383.94" cy="279.83" r="1.9" fill="#ec2a8a"/>
<circle cx="371.65" cy="277.83" r="1.9" fill="#ec2a8a"/>
<circle cx="375.49" cy="278.29" r="1.9" fill="#ec2a8a"/>
<circle cx="379.33" cy="277.52" r="1.9" fill="#ec2a8a"/>
<circle cx="384.70" cy="276.76" r="1.9" fill="#ec2a8a"/>
<circle cx="380.87" cy="275.22" r="1.9" fill="#ec2a8a"/>
<circle cx="372.42" cy="268.31" r="1.9" fill="#ec2a8a"/>
<circle cx="376.26" cy="268.31" r="1.9" fill="#ec2a8a"/>
<circle cx="379.33" cy="269.85" r="1.9" fill="#ec2a8a"/>
<circle cx="383.17" cy="268.62" r="1.9" fill="#ec2a8a"/>
<circle cx="386.24" cy="268.31" r="1.9" fill="#ec2a8a"/>
<circle cx="379.33" cy="265.70" r="1.9" fill="#ec2a8a"/>
<circle cx="379.33" cy="261.40" r="1.9" fill="#ec2a8a"/>
<circle cx="379.33" cy="257.26" r="1.9" fill="#ec2a8a"/>
<circle cx="379.33" cy="249.88" r="1.9" fill="#ec2a8a"/>
<circle cx="379.33" cy="244.05" r="1.9" fill="#ec2a8a"/>
<circle cx="379.33" cy="240.67" r="1.9" fill="#ec2a8a"/>
<circle cx="375.49" cy="239.90" r="1.9" fill="#ec2a8a"/>
<circle cx="382.40" cy="239.90" r="1.9" fill="#ec2a8a"/>
<circle cx="373.96" cy="235.60" r="1.9" fill="#ec2a8a"/>
<circle cx="377.79" cy="236.07" r="1.9" fill="#ec2a8a"/>
<circle cx="381.63" cy="236.07" r="1.9" fill="#ec2a8a"/>
<circle cx="385.01" cy="235.60" r="1.9" fill="#ec2a8a"/>
<circle cx="379.33" cy="231.77" r="1.9" fill="#ec2a8a"/>
<circle cx="379.33" cy="216.87" r="1.9" fill="#ec2a8a"/>
<circle cx="379.33" cy="198.45" r="1.9" fill="#ec2a8a"/>
<circle cx="379.33" cy="193.38" r="1.9" fill="#ec2a8a"/>
<line x1="371.33" y1="255.57" x2="387.33" y2="255.57" stroke="#ec2a8a" stroke-width="1.05"/>
<line x1="375.13" y1="251.42" x2="383.53" y2="251.42" stroke="#ec2a8a" stroke-width="1.05"/>
<line x1="375.13" y1="259.40" x2="383.53" y2="259.40" stroke="#ec2a8a" stroke-width="1.05"/>
<line x1="379.33" y1="251.42" x2="379.33" y2="259.40" stroke="#ec2a8a" stroke-width="1.05"/>
<circle cx="51.91" cy="439.19" r="1.9" fill="#111"/>
<circle cx="53.67" cy="435.68" r="1.9" fill="#111"/>
<circle cx="49.64" cy="421.67" r="1.9" fill="#111"/>
<circle cx="51.91" cy="424.47" r="1.9" fill="#111"/>
<circle cx="55.77" cy="423.07" r="1.9" fill="#111"/>
<circle cx="59.62" cy="422.54" r="1.9" fill="#111"/>
<circle cx="53.67" cy="417.81" r="1.9" fill="#111"/>
<circle cx="53.67" cy="398.19" r="1.9" fill="#111"/>
<circle cx="53.67" cy="377.52" r="1.9" fill="#111"/>
<circle cx="53.67" cy="371.39" r="1.9" fill="#111"/>
<circle cx="46.91" cy="473.01" r="1.9" fill="#111"/>
<circle cx="49.98" cy="473.32" r="1.9" fill="#111"/>
<circle cx="53.51" cy="473.01" r="1.9" fill="#111"/>
<circle cx="56.89" cy="472.55" r="1.9" fill="#111"/>
<circle cx="59.96" cy="471.94" r="1.9" fill="#111"/>
<circle cx="52.28" cy="469.17" r="1.9" fill="#111"/>
<circle cx="55.36" cy="468.41" r="1.9" fill="#111"/>
<circle cx="47.68" cy="464.57" r="1.9" fill="#111"/>
<circle cx="50.75" cy="463.80" r="1.9" fill="#111"/>
<circle cx="53.82" cy="464.57" r="1.9" fill="#111"/>
<circle cx="56.89" cy="465.34" r="1.9" fill="#111"/>
<circle cx="49.21" cy="461.50" r="1.9" fill="#111"/>
<circle cx="54.59" cy="459.96" r="1.9" fill="#111"/>
<circle cx="59.96" cy="461.50" r="1.9" fill="#111"/>
<circle cx="48.45" cy="457.97" r="1.9" fill="#111"/>
<circle cx="52.28" cy="453.05" r="1.9" fill="#111"/>
<circle cx="55.36" cy="452.74" r="1.9" fill="#111"/>
<circle cx="53.82" cy="447.68" r="1.9" fill="#111"/>
<circle cx="55.36" cy="440.77" r="1.9" fill="#111"/>
<circle cx="51.52" cy="440.00" r="1.9" fill="#111"/>
<circle cx="71.89" cy="434.98" r="1.9" fill="#0aaac0"/>
<circle cx="69.78" cy="430.60" r="1.9" fill="#0aaac0"/>
<circle cx="73.29" cy="431.48" r="1.9" fill="#0aaac0"/>
<circle cx="71.53" cy="430.08" r="1.9" fill="#0aaac0"/>
<circle cx="71.89" cy="415.19" r="1.9" fill="#0aaac0"/>
<circle cx="70.13" cy="410.81" r="1.9" fill="#0aaac0"/>
<circle cx="74.16" cy="412.03" r="1.9" fill="#0aaac0"/>
<circle cx="64.57" cy="472.78" r="1.9" fill="#0aaac0"/>
<circle cx="67.49" cy="473.24" r="1.9" fill="#0aaac0"/>
<circle cx="70.40" cy="472.78" r="1.9" fill="#0aaac0"/>
<circle cx="73.32" cy="473.24" r="1.9" fill="#0aaac0"/>
<circle cx="76.24" cy="472.78" r="1.9" fill="#0aaac0"/>
<circle cx="79.16" cy="473.24" r="1.9" fill="#0aaac0"/>
<circle cx="64.57" cy="470.71" r="1.9" fill="#0aaac0"/>
<circle cx="66.87" cy="468.41" r="1.9" fill="#0aaac0"/>
<circle cx="69.94" cy="466.41" r="1.9" fill="#0aaac0"/>
<circle cx="73.01" cy="466.10" r="1.9" fill="#0aaac0"/>
<circle cx="76.08" cy="467.64" r="1.9" fill="#0aaac0"/>
<circle cx="78.39" cy="469.48" r="1.9" fill="#0aaac0"/>
<circle cx="80.23" cy="470.71" r="1.9" fill="#0aaac0"/>
<circle cx="69.17" cy="470.40" r="1.9" fill="#0aaac0"/>
<circle cx="74.55" cy="470.71" r="1.9" fill="#0aaac0"/>
<circle cx="64.88" cy="459.50" r="1.9" fill="#0aaac0"/>
<circle cx="67.64" cy="459.65" r="1.9" fill="#0aaac0"/>
<circle cx="70.40" cy="459.96" r="1.9" fill="#0aaac0"/>
<circle cx="73.01" cy="460.27" r="1.9" fill="#0aaac0"/>
<circle cx="76.85" cy="459.50" r="1.9" fill="#0aaac0"/>
<circle cx="78.39" cy="461.04" r="1.9" fill="#0aaac0"/>
<circle cx="70.25" cy="452.28" r="1.9" fill="#0aaac0"/>
<circle cx="73.01" cy="454.89" r="1.9" fill="#0aaac0"/>
<circle cx="82.57" cy="439.36" r="1.9" fill="#111"/>
<circle cx="86.43" cy="437.08" r="1.9" fill="#111"/>
<circle cx="89.93" cy="437.96" r="1.9" fill="#111"/>
<circle cx="93.43" cy="437.96" r="1.9" fill="#111"/>
<circle cx="97.29" cy="438.49" r="1.9" fill="#111"/>
<circle cx="84.67" cy="432.70" r="1.9" fill="#111"/>
<circle cx="88.18" cy="433.58" r="1.9" fill="#111"/>
<circle cx="91.68" cy="431.83" r="1.9" fill="#111"/>
<circle cx="95.19" cy="432.70" r="1.9" fill="#111"/>
<circle cx="88.18" cy="427.45" r="1.9" fill="#111"/>
<circle cx="91.68" cy="427.45" r="1.9" fill="#111"/>
<circle cx="88.18" cy="406.25" r="1.9" fill="#111"/>
<circle cx="91.68" cy="406.95" r="1.9" fill="#111"/>
<circle cx="89.93" cy="374.02" r="1.9" fill="#111"/>
<circle cx="82.23" cy="472.32" r="1.9" fill="#111"/>
<circle cx="85.14" cy="472.78" r="1.9" fill="#111"/>
<circle cx="88.06" cy="472.32" r="1.9" fill="#111"/>
<circle cx="90.98" cy="472.78" r="1.9" fill="#111"/>
<circle cx="93.90" cy="472.32" r="1.9" fill="#111"/>
<circle cx="96.81" cy="472.78" r="1.9" fill="#111"/>
<circle cx="83.76" cy="469.94" r="1.9" fill="#111"/>
<circle cx="86.83" cy="468.87" r="1.9" fill="#111"/>
<circle cx="89.90" cy="469.17" r="1.9" fill="#111"/>
<circle cx="92.98" cy="469.94" r="1.9" fill="#111"/>
<circle cx="96.05" cy="470.71" r="1.9" fill="#111"/>
<circle cx="86.07" cy="466.10" r="1.9" fill="#111"/>
<circle cx="90.67" cy="465.34" r="1.9" fill="#111"/>
<circle cx="83.76" cy="463.80" r="1.9" fill="#111"/>
<circle cx="92.98" cy="463.34" r="1.9" fill="#111"/>
<circle cx="97.12" cy="464.26" r="1.9" fill="#111"/>
<circle cx="89.44" cy="459.19" r="1.9" fill="#111"/>
<circle cx="89.44" cy="455.36" r="1.9" fill="#111"/>
<circle cx="89.44" cy="451.06" r="1.9" fill="#111"/>
<circle cx="87.91" cy="446.14" r="1.9" fill="#111"/>
<circle cx="91.44" cy="446.91" r="1.9" fill="#111"/>
<circle cx="106.22" cy="433.58" r="1.9" fill="#ec2a8a"/>
<circle cx="110.08" cy="434.46" r="1.9" fill="#ec2a8a"/>
<circle cx="107.97" cy="430.95" r="1.9" fill="#ec2a8a"/>
<circle cx="107.97" cy="427.10" r="1.9" fill="#ec2a8a"/>
<circle cx="106.22" cy="421.32" r="1.9" fill="#ec2a8a"/>
<circle cx="110.08" cy="421.84" r="1.9" fill="#ec2a8a"/>
<circle cx="107.97" cy="418.16" r="1.9" fill="#ec2a8a"/>
<circle cx="107.97" cy="406.25" r="1.9" fill="#ec2a8a"/>
<circle cx="107.97" cy="395.56" r="1.9" fill="#ec2a8a"/>
<circle cx="107.97" cy="388.03" r="1.9" fill="#ec2a8a"/>
<circle cx="100.19" cy="472.78" r="1.9" fill="#ec2a8a"/>
<circle cx="103.36" cy="473.24" r="1.9" fill="#ec2a8a"/>
<circle cx="106.52" cy="472.78" r="1.9" fill="#ec2a8a"/>
<circle cx="109.68" cy="473.24" r="1.9" fill="#ec2a8a"/>
<circle cx="112.84" cy="472.78" r="1.9" fill="#ec2a8a"/>
<circle cx="116.01" cy="473.24" r="1.9" fill="#ec2a8a"/>
<circle cx="101.42" cy="470.71" r="1.9" fill="#ec2a8a"/>
<circle cx="103.72" cy="468.87" r="1.9" fill="#ec2a8a"/>
<circle cx="106.79" cy="467.95" r="1.9" fill="#ec2a8a"/>
<circle cx="109.87" cy="468.10" r="1.9" fill="#ec2a8a"/>
<circle cx="112.94" cy="469.17" r="1.9" fill="#ec2a8a"/>
<circle cx="115.24" cy="471.17" r="1.9" fill="#ec2a8a"/>
<circle cx="107.87" cy="463.03" r="1.9" fill="#ec2a8a"/>
<circle cx="105.26" cy="459.50" r="1.9" fill="#ec2a8a"/>
<circle cx="111.40" cy="458.73" r="1.9" fill="#ec2a8a"/>
<circle cx="108.33" cy="454.59" r="1.9" fill="#ec2a8a"/>
<circle cx="106.33" cy="448.91" r="1.9" fill="#ec2a8a"/>
<circle cx="109.87" cy="448.91" r="1.9" fill="#ec2a8a"/>
<circle cx="108.02" cy="445.37" r="1.9" fill="#ec2a8a"/>
<circle cx="142.91" cy="433.58" r="1.9" fill="#111"/>
<circle cx="146.42" cy="434.81" r="1.9" fill="#111"/>
<circle cx="144.14" cy="429.20" r="1.9" fill="#111"/>
<circle cx="142.39" cy="421.32" r="1.9" fill="#111"/>
<circle cx="146.24" cy="422.19" r="1.9" fill="#111"/>
<circle cx="144.14" cy="413.08" r="1.9" fill="#111"/>
<circle cx="144.14" cy="398.54" r="1.9" fill="#111"/>
<circle cx="144.14" cy="389.26" r="1.9" fill="#111"/>
<circle cx="136.37" cy="472.94" r="1.9" fill="#111"/>
<circle cx="139.02" cy="473.40" r="1.9" fill="#111"/>
<circle cx="141.64" cy="472.94" r="1.9" fill="#111"/>
<circle cx="144.28" cy="473.40" r="1.9" fill="#111"/>
<circle cx="146.92" cy="472.94" r="1.9" fill="#111"/>
<circle cx="149.55" cy="473.40" r="1.9" fill="#111"/>
<circle cx="152.19" cy="472.94" r="1.9" fill="#111"/>
<circle cx="137.14" cy="469.94" r="1.9" fill="#111"/>
<circle cx="140.21" cy="467.64" r="1.9" fill="#111"/>
<circle cx="149.43" cy="468.41" r="1.9" fill="#111"/>
<circle cx="147.12" cy="466.87" r="1.9" fill="#111"/>
<circle cx="139.45" cy="463.03" r="1.9" fill="#111"/>
<circle cx="146.36" cy="463.03" r="1.9" fill="#111"/>
<circle cx="148.66" cy="465.34" r="1.9" fill="#111"/>
<circle cx="142.98" cy="459.19" r="1.9" fill="#111"/>
<circle cx="145.59" cy="460.73" r="1.9" fill="#111"/>
<circle cx="141.44" cy="453.05" r="1.9" fill="#111"/>
<circle cx="144.51" cy="451.52" r="1.9" fill="#111"/>
<circle cx="145.59" cy="455.36" r="1.9" fill="#111"/>
<circle cx="144.51" cy="442.76" r="1.9" fill="#111"/>
<circle cx="154.03" cy="472.78" r="1.9" fill="#0aaac0"/>
<circle cx="156.80" cy="473.24" r="1.9" fill="#0aaac0"/>
<circle cx="159.56" cy="472.78" r="1.9" fill="#0aaac0"/>
<circle cx="162.32" cy="473.24" r="1.9" fill="#0aaac0"/>
<circle cx="165.09" cy="472.78" r="1.9" fill="#0aaac0"/>
<circle cx="167.85" cy="473.24" r="1.9" fill="#0aaac0"/>
<circle cx="170.62" cy="472.78" r="1.9" fill="#0aaac0"/>
<circle cx="154.03" cy="470.17" r="1.9" fill="#0aaac0"/>
<circle cx="156.80" cy="470.63" r="1.9" fill="#0aaac0"/>
<circle cx="159.56" cy="470.17" r="1.9" fill="#0aaac0"/>
<circle cx="162.32" cy="470.63" r="1.9" fill="#0aaac0"/>
<circle cx="165.09" cy="470.17" r="1.9" fill="#0aaac0"/>
<circle cx="167.85" cy="470.63" r="1.9" fill="#0aaac0"/>
<circle cx="170.62" cy="470.17" r="1.9" fill="#0aaac0"/>
<circle cx="154.34" cy="467.41" r="1.9" fill="#0aaac0"/>
<circle cx="157.50" cy="467.87" r="1.9" fill="#0aaac0"/>
<circle cx="160.67" cy="467.41" r="1.9" fill="#0aaac0"/>
<circle cx="163.83" cy="467.87" r="1.9" fill="#0aaac0"/>
<circle cx="166.99" cy="467.41" r="1.9" fill="#0aaac0"/>
<circle cx="170.16" cy="467.87" r="1.9" fill="#0aaac0"/>
<circle cx="155.57" cy="464.80" r="1.9" fill="#0aaac0"/>
<circle cx="159.02" cy="465.26" r="1.9" fill="#0aaac0"/>
<circle cx="162.48" cy="464.80" r="1.9" fill="#0aaac0"/>
<circle cx="165.93" cy="465.26" r="1.9" fill="#0aaac0"/>
<circle cx="169.39" cy="464.80" r="1.9" fill="#0aaac0"/>
<circle cx="157.10" cy="462.50" r="1.9" fill="#0aaac0"/>
<circle cx="160.68" cy="462.96" r="1.9" fill="#0aaac0"/>
<circle cx="164.27" cy="462.50" r="1.9" fill="#0aaac0"/>
<circle cx="167.85" cy="462.96" r="1.9" fill="#0aaac0"/>
<circle cx="160.17" cy="460.73" r="1.9" fill="#0aaac0"/>
<circle cx="164.01" cy="460.73" r="1.9" fill="#0aaac0"/>
<circle cx="180.40" cy="438.31" r="1.9" fill="#111"/>
<circle cx="180.40" cy="432.35" r="1.9" fill="#111"/>
<circle cx="172.77" cy="472.78" r="1.9" fill="#111"/>
<circle cx="175.33" cy="473.24" r="1.9" fill="#111"/>
<circle cx="177.88" cy="472.78" r="1.9" fill="#111"/>
<circle cx="180.44" cy="473.24" r="1.9" fill="#111"/>
<circle cx="183.01" cy="472.78" r="1.9" fill="#111"/>
<circle cx="185.56" cy="473.24" r="1.9" fill="#111"/>
<circle cx="188.12" cy="472.78" r="1.9" fill="#111"/>
<circle cx="173.99" cy="470.40" r="1.9" fill="#111"/>
<circle cx="177.07" cy="469.94" r="1.9" fill="#111"/>
<circle cx="183.21" cy="469.48" r="1.9" fill="#111"/>
<circle cx="186.28" cy="470.40" r="1.9" fill="#111"/>
<circle cx="180.14" cy="466.10" r="1.9" fill="#111"/>
<circle cx="183.98" cy="466.87" r="1.9" fill="#111"/>
<circle cx="177.07" cy="464.57" r="1.9" fill="#111"/>
<circle cx="174.76" cy="459.96" r="1.9" fill="#111"/>
<circle cx="177.83" cy="460.73" r="1.9" fill="#111"/>
<circle cx="181.67" cy="459.96" r="1.9" fill="#111"/>
<circle cx="185.51" cy="459.96" r="1.9" fill="#111"/>
<circle cx="176.30" cy="456.12" r="1.9" fill="#111"/>
<circle cx="180.14" cy="456.89" r="1.9" fill="#111"/>
<circle cx="183.98" cy="455.36" r="1.9" fill="#111"/>
<circle cx="177.83" cy="452.28" r="1.9" fill="#111"/>
<circle cx="182.44" cy="452.28" r="1.9" fill="#111"/>
<circle cx="180.14" cy="449.98" r="1.9" fill="#111"/>
<circle cx="183.98" cy="447.68" r="1.9" fill="#111"/>
<circle cx="177.83" cy="446.45" r="1.9" fill="#111"/>
<circle cx="180.14" cy="443.07" r="1.9" fill="#111"/>
<circle cx="196.70" cy="436.56" r="1.9" fill="#ec2a8a"/>
<circle cx="200.55" cy="435.68" r="1.9" fill="#ec2a8a"/>
<circle cx="198.45" cy="428.68" r="1.9" fill="#ec2a8a"/>
<circle cx="202.48" cy="427.97" r="1.9" fill="#ec2a8a"/>
<circle cx="195.47" cy="426.22" r="1.9" fill="#ec2a8a"/>
<circle cx="198.45" cy="424.30" r="1.9" fill="#ec2a8a"/>
<circle cx="191.35" cy="472.78" r="1.9" fill="#ec2a8a"/>
<circle cx="193.91" cy="473.24" r="1.9" fill="#ec2a8a"/>
<circle cx="196.46" cy="472.78" r="1.9" fill="#ec2a8a"/>
<circle cx="199.02" cy="473.24" r="1.9" fill="#ec2a8a"/>
<circle cx="201.59" cy="472.78" r="1.9" fill="#ec2a8a"/>
<circle cx="204.14" cy="473.24" r="1.9" fill="#ec2a8a"/>
<circle cx="206.70" cy="472.78" r="1.9" fill="#ec2a8a"/>
<circle cx="192.42" cy="469.17" r="1.9" fill="#ec2a8a"/>
<circle cx="195.49" cy="468.41" r="1.9" fill="#ec2a8a"/>
<circle cx="200.87" cy="468.87" r="1.9" fill="#ec2a8a"/>
<circle cx="206.24" cy="468.41" r="1.9" fill="#ec2a8a"/>
<circle cx="194.72" cy="464.57" r="1.9" fill="#ec2a8a"/>
<circle cx="198.56" cy="464.88" r="1.9" fill="#ec2a8a"/>
<circle cx="201.94" cy="464.57" r="1.9" fill="#ec2a8a"/>
<circle cx="198.56" cy="461.50" r="1.9" fill="#ec2a8a"/>
<circle cx="198.56" cy="455.36" r="1.9" fill="#ec2a8a"/>
<circle cx="198.56" cy="447.68" r="1.9" fill="#ec2a8a"/>
<circle cx="198.56" cy="444.61" r="1.9" fill="#ec2a8a"/>
<circle cx="230.64" cy="438.84" r="1.9" fill="#111"/>
<circle cx="234.67" cy="437.61" r="1.9" fill="#111"/>
<circle cx="238.52" cy="436.73" r="1.9" fill="#111"/>
<circle cx="234.67" cy="430.60" r="1.9" fill="#111"/>
<circle cx="226.37" cy="472.78" r="1.9" fill="#111"/>
<circle cx="228.98" cy="473.24" r="1.9" fill="#111"/>
<circle cx="231.60" cy="472.78" r="1.9" fill="#111"/>
<circle cx="234.21" cy="473.24" r="1.9" fill="#111"/>
<circle cx="236.82" cy="472.78" r="1.9" fill="#111"/>
<circle cx="239.43" cy="473.24" r="1.9" fill="#111"/>
<circle cx="242.04" cy="472.78" r="1.9" fill="#111"/>
<circle cx="226.37" cy="470.48" r="1.9" fill="#111"/>
<circle cx="228.98" cy="470.94" r="1.9" fill="#111"/>
<circle cx="231.60" cy="470.48" r="1.9" fill="#111"/>
<circle cx="234.21" cy="470.94" r="1.9" fill="#111"/>
<circle cx="236.82" cy="470.48" r="1.9" fill="#111"/>
<circle cx="239.43" cy="470.94" r="1.9" fill="#111"/>
<circle cx="242.04" cy="470.48" r="1.9" fill="#111"/>
<circle cx="226.68" cy="468.18" r="1.9" fill="#111"/>
<circle cx="229.69" cy="468.64" r="1.9" fill="#111"/>
<circle cx="232.70" cy="468.18" r="1.9" fill="#111"/>
<circle cx="235.71" cy="468.64" r="1.9" fill="#111"/>
<circle cx="238.72" cy="468.18" r="1.9" fill="#111"/>
<circle cx="241.73" cy="468.64" r="1.9" fill="#111"/>
<circle cx="227.14" cy="465.87" r="1.9" fill="#111"/>
<circle cx="230.67" cy="466.33" r="1.9" fill="#111"/>
<circle cx="234.21" cy="465.87" r="1.9" fill="#111"/>
<circle cx="237.74" cy="466.33" r="1.9" fill="#111"/>
<circle cx="241.27" cy="465.87" r="1.9" fill="#111"/>
<circle cx="228.68" cy="460.42" r="1.9" fill="#111"/>
<circle cx="232.06" cy="460.42" r="1.9" fill="#111"/>
<circle cx="235.59" cy="460.42" r="1.9" fill="#111"/>
<circle cx="239.43" cy="460.73" r="1.9" fill="#111"/>
<circle cx="230.98" cy="451.52" r="1.9" fill="#111"/>
<circle cx="234.82" cy="453.51" r="1.9" fill="#111"/>
<circle cx="238.66" cy="452.28" r="1.9" fill="#111"/>
<circle cx="234.82" cy="447.37" r="1.9" fill="#111"/>
<circle cx="230.98" cy="440.00" r="1.9" fill="#111"/>
<circle cx="244.34" cy="472.78" r="1.9" fill="#0aaac0"/>
<circle cx="247.15" cy="473.24" r="1.9" fill="#0aaac0"/>
<circle cx="249.98" cy="472.78" r="1.9" fill="#0aaac0"/>
<circle cx="252.79" cy="473.24" r="1.9" fill="#0aaac0"/>
<circle cx="255.60" cy="472.78" r="1.9" fill="#0aaac0"/>
<circle cx="258.42" cy="473.24" r="1.9" fill="#0aaac0"/>
<circle cx="261.23" cy="472.78" r="1.9" fill="#0aaac0"/>
<circle cx="244.34" cy="470.48" r="1.9" fill="#0aaac0"/>
<circle cx="247.15" cy="470.94" r="1.9" fill="#0aaac0"/>
<circle cx="249.98" cy="470.48" r="1.9" fill="#0aaac0"/>
<circle cx="252.79" cy="470.94" r="1.9" fill="#0aaac0"/>
<circle cx="255.60" cy="470.48" r="1.9" fill="#0aaac0"/>
<circle cx="258.42" cy="470.94" r="1.9" fill="#0aaac0"/>
<circle cx="261.23" cy="470.48" r="1.9" fill="#0aaac0"/>
<circle cx="244.80" cy="468.18" r="1.9" fill="#0aaac0"/>
<circle cx="247.96" cy="468.64" r="1.9" fill="#0aaac0"/>
<circle cx="251.13" cy="468.18" r="1.9" fill="#0aaac0"/>
<circle cx="254.29" cy="468.64" r="1.9" fill="#0aaac0"/>
<circle cx="257.45" cy="468.18" r="1.9" fill="#0aaac0"/>
<circle cx="260.62" cy="468.64" r="1.9" fill="#0aaac0"/>
<circle cx="244.80" cy="461.50" r="1.9" fill="#0aaac0"/>
<circle cx="247.87" cy="460.42" r="1.9" fill="#0aaac0"/>
<circle cx="250.94" cy="456.89" r="1.9" fill="#0aaac0"/>
<circle cx="254.01" cy="458.73" r="1.9" fill="#0aaac0"/>
<circle cx="257.08" cy="460.73" r="1.9" fill="#0aaac0"/>
<circle cx="260.16" cy="461.19" r="1.9" fill="#0aaac0"/>
<circle cx="250.94" cy="463.80" r="1.9" fill="#0aaac0"/>
<circle cx="255.55" cy="464.57" r="1.9" fill="#0aaac0"/>
<circle cx="259.39" cy="465.34" r="1.9" fill="#0aaac0"/>
<circle cx="262.92" cy="472.78" r="1.9" fill="#111"/>
<circle cx="265.58" cy="473.24" r="1.9" fill="#111"/>
<circle cx="268.25" cy="472.78" r="1.9" fill="#111"/>
<circle cx="270.90" cy="473.24" r="1.9" fill="#111"/>
<circle cx="273.56" cy="472.78" r="1.9" fill="#111"/>
<circle cx="276.23" cy="473.24" r="1.9" fill="#111"/>
<circle cx="278.89" cy="472.78" r="1.9" fill="#111"/>
<circle cx="262.92" cy="470.48" r="1.9" fill="#111"/>
<circle cx="265.58" cy="470.94" r="1.9" fill="#111"/>
<circle cx="268.25" cy="470.48" r="1.9" fill="#111"/>
<circle cx="270.90" cy="470.94" r="1.9" fill="#111"/>
<circle cx="273.56" cy="470.48" r="1.9" fill="#111"/>
<circle cx="276.23" cy="470.94" r="1.9" fill="#111"/>
<circle cx="278.89" cy="470.48" r="1.9" fill="#111"/>
<circle cx="263.99" cy="468.48" r="1.9" fill="#111"/>
<circle cx="267.45" cy="468.94" r="1.9" fill="#111"/>
<circle cx="270.90" cy="468.48" r="1.9" fill="#111"/>
<circle cx="274.36" cy="468.94" r="1.9" fill="#111"/>
<circle cx="277.81" cy="468.48" r="1.9" fill="#111"/>
<circle cx="265.53" cy="466.10" r="1.9" fill="#111"/>
<circle cx="270.14" cy="464.57" r="1.9" fill="#111"/>
<circle cx="273.98" cy="464.57" r="1.9" fill="#111"/>
<circle cx="277.81" cy="466.87" r="1.9" fill="#111"/>
<circle cx="264.76" cy="454.89" r="1.9" fill="#111"/>
<circle cx="267.83" cy="455.36" r="1.9" fill="#111"/>
<circle cx="272.44" cy="455.05" r="1.9" fill="#111"/>
<circle cx="276.28" cy="455.82" r="1.9" fill="#111"/>
<circle cx="270.44" cy="459.19" r="1.9" fill="#111"/>
<circle cx="267.83" cy="447.98" r="1.9" fill="#111"/>
<circle cx="270.90" cy="450.44" r="1.9" fill="#111"/>
<circle cx="274.28" cy="449.52" r="1.9" fill="#111"/>
<circle cx="270.90" cy="441.23" r="1.9" fill="#111"/>
<circle cx="288.97" cy="437.61" r="1.9" fill="#ec2a8a"/>
<circle cx="280.88" cy="472.78" r="1.9" fill="#ec2a8a"/>
<circle cx="283.54" cy="473.24" r="1.9" fill="#ec2a8a"/>
<circle cx="286.21" cy="472.78" r="1.9" fill="#ec2a8a"/>
<circle cx="288.87" cy="473.24" r="1.9" fill="#ec2a8a"/>
<circle cx="291.53" cy="472.78" r="1.9" fill="#ec2a8a"/>
<circle cx="294.20" cy="473.24" r="1.9" fill="#ec2a8a"/>
<circle cx="296.85" cy="472.78" r="1.9" fill="#ec2a8a"/>
<circle cx="280.88" cy="470.48" r="1.9" fill="#ec2a8a"/>
<circle cx="283.54" cy="470.94" r="1.9" fill="#ec2a8a"/>
<circle cx="286.21" cy="470.48" r="1.9" fill="#ec2a8a"/>
<circle cx="288.87" cy="470.94" r="1.9" fill="#ec2a8a"/>
<circle cx="291.53" cy="470.48" r="1.9" fill="#ec2a8a"/>
<circle cx="294.20" cy="470.94" r="1.9" fill="#ec2a8a"/>
<circle cx="296.85" cy="470.48" r="1.9" fill="#ec2a8a"/>
<circle cx="281.96" cy="468.64" r="1.9" fill="#ec2a8a"/>
<circle cx="285.41" cy="469.10" r="1.9" fill="#ec2a8a"/>
<circle cx="288.87" cy="468.64" r="1.9" fill="#ec2a8a"/>
<circle cx="292.32" cy="469.10" r="1.9" fill="#ec2a8a"/>
<circle cx="295.78" cy="468.64" r="1.9" fill="#ec2a8a"/>
<circle cx="284.72" cy="463.80" r="1.9" fill="#ec2a8a"/>
<circle cx="288.56" cy="462.73" r="1.9" fill="#ec2a8a"/>
<circle cx="291.94" cy="464.26" r="1.9" fill="#ec2a8a"/>
<circle cx="285.49" cy="455.05" r="1.9" fill="#ec2a8a"/>
<circle cx="288.56" cy="453.51" r="1.9" fill="#ec2a8a"/>
<circle cx="292.40" cy="454.59" r="1.9" fill="#ec2a8a"/>
<circle cx="286.26" cy="450.44" r="1.9" fill="#ec2a8a"/>
<circle cx="289.33" cy="446.91" r="1.9" fill="#ec2a8a"/>
<circle cx="292.40" cy="445.07" r="1.9" fill="#ec2a8a"/>
<circle cx="287.03" cy="443.07" r="1.9" fill="#ec2a8a"/>
<circle cx="325.02" cy="439.19" r="1.9" fill="#111"/>
<circle cx="323.61" cy="430.95" r="1.9" fill="#111"/>
<circle cx="327.12" cy="431.83" r="1.9" fill="#111"/>
<circle cx="323.26" cy="406.95" r="1.9" fill="#111"/>
<circle cx="326.77" cy="409.05" r="1.9" fill="#111"/>
<circle cx="325.02" cy="396.26" r="1.9" fill="#111"/>
<circle cx="316.83" cy="472.48" r="1.9" fill="#111"/>
<circle cx="319.40" cy="472.94" r="1.9" fill="#111"/>
<circle cx="321.95" cy="472.48" r="1.9" fill="#111"/>
<circle cx="324.51" cy="472.94" r="1.9" fill="#111"/>
<circle cx="327.08" cy="472.48" r="1.9" fill="#111"/>
<circle cx="329.63" cy="472.94" r="1.9" fill="#111"/>
<circle cx="332.19" cy="472.48" r="1.9" fill="#111"/>
<circle cx="318.68" cy="469.17" r="1.9" fill="#111"/>
<circle cx="322.52" cy="468.41" r="1.9" fill="#111"/>
<circle cx="326.36" cy="468.41" r="1.9" fill="#111"/>
<circle cx="324.05" cy="464.57" r="1.9" fill="#111"/>
<circle cx="326.36" cy="463.03" r="1.9" fill="#111"/>
<circle cx="324.05" cy="459.19" r="1.9" fill="#111"/>
<circle cx="320.52" cy="454.13" r="1.9" fill="#111"/>
<circle cx="325.59" cy="455.36" r="1.9" fill="#111"/>
<circle cx="330.19" cy="454.13" r="1.9" fill="#111"/>
<circle cx="324.82" cy="442.76" r="1.9" fill="#111"/>
<circle cx="334.49" cy="472.78" r="1.9" fill="#0aaac0"/>
<circle cx="337.29" cy="473.24" r="1.9" fill="#0aaac0"/>
<circle cx="340.07" cy="472.78" r="1.9" fill="#0aaac0"/>
<circle cx="342.86" cy="473.24" r="1.9" fill="#0aaac0"/>
<circle cx="345.66" cy="472.78" r="1.9" fill="#0aaac0"/>
<circle cx="348.44" cy="473.24" r="1.9" fill="#0aaac0"/>
<circle cx="351.23" cy="472.78" r="1.9" fill="#0aaac0"/>
<circle cx="334.80" cy="470.17" r="1.9" fill="#0aaac0"/>
<circle cx="338.02" cy="470.63" r="1.9" fill="#0aaac0"/>
<circle cx="341.25" cy="470.17" r="1.9" fill="#0aaac0"/>
<circle cx="344.47" cy="470.63" r="1.9" fill="#0aaac0"/>
<circle cx="347.70" cy="470.17" r="1.9" fill="#0aaac0"/>
<circle cx="350.92" cy="470.63" r="1.9" fill="#0aaac0"/>
<circle cx="335.57" cy="467.87" r="1.9" fill="#0aaac0"/>
<circle cx="339.22" cy="468.33" r="1.9" fill="#0aaac0"/>
<circle cx="342.86" cy="467.87" r="1.9" fill="#0aaac0"/>
<circle cx="346.50" cy="468.33" r="1.9" fill="#0aaac0"/>
<circle cx="350.16" cy="467.87" r="1.9" fill="#0aaac0"/>
<circle cx="335.57" cy="464.88" r="1.9" fill="#0aaac0"/>
<circle cx="350.62" cy="464.26" r="1.9" fill="#0aaac0"/>
<circle cx="341.71" cy="463.03" r="1.9" fill="#0aaac0"/>
<circle cx="344.78" cy="463.80" r="1.9" fill="#0aaac0"/>
<circle cx="341.71" cy="455.36" r="1.9" fill="#0aaac0"/>
<circle cx="345.09" cy="457.20" r="1.9" fill="#0aaac0"/>
<circle cx="361.46" cy="436.21" r="1.9" fill="#111"/>
<circle cx="361.46" cy="430.43" r="1.9" fill="#111"/>
<circle cx="352.92" cy="472.78" r="1.9" fill="#111"/>
<circle cx="355.58" cy="473.24" r="1.9" fill="#111"/>
<circle cx="358.25" cy="472.78" r="1.9" fill="#111"/>
<circle cx="360.90" cy="473.24" r="1.9" fill="#111"/>
<circle cx="363.56" cy="472.78" r="1.9" fill="#111"/>
<circle cx="366.23" cy="473.24" r="1.9" fill="#111"/>
<circle cx="368.89" cy="472.78" r="1.9" fill="#111"/>
<circle cx="353.23" cy="470.48" r="1.9" fill="#111"/>
<circle cx="356.30" cy="470.94" r="1.9" fill="#111"/>
<circle cx="359.37" cy="470.48" r="1.9" fill="#111"/>
<circle cx="362.44" cy="470.94" r="1.9" fill="#111"/>
<circle cx="365.51" cy="470.48" r="1.9" fill="#111"/>
<circle cx="368.58" cy="470.94" r="1.9" fill="#111"/>
<circle cx="353.99" cy="467.64" r="1.9" fill="#111"/>
<circle cx="357.07" cy="466.41" r="1.9" fill="#111"/>
<circle cx="361.67" cy="465.34" r="1.9" fill="#111"/>
<circle cx="365.51" cy="466.87" r="1.9" fill="#111"/>
<circle cx="368.58" cy="467.64" r="1.9" fill="#111"/>
<circle cx="365.51" cy="460.42" r="1.9" fill="#111"/>
<circle cx="361.67" cy="458.73" r="1.9" fill="#111"/>
<circle cx="357.07" cy="456.89" r="1.9" fill="#111"/>
<circle cx="360.14" cy="454.59" r="1.9" fill="#111"/>
<circle cx="363.98" cy="454.59" r="1.9" fill="#111"/>
<circle cx="359.37" cy="450.44" r="1.9" fill="#111"/>
<circle cx="363.21" cy="448.45" r="1.9" fill="#111"/>
<circle cx="361.36" cy="445.37" r="1.9" fill="#111"/>
<circle cx="361.36" cy="440.77" r="1.9" fill="#111"/>
<circle cx="379.33" cy="436.73" r="1.9" fill="#ec2a8a"/>
<circle cx="379.33" cy="430.60" r="1.9" fill="#ec2a8a"/>
<circle cx="377.57" cy="425.70" r="1.9" fill="#ec2a8a"/>
<circle cx="381.08" cy="425.70" r="1.9" fill="#ec2a8a"/>
<circle cx="379.33" cy="421.84" r="1.9" fill="#ec2a8a"/>
<circle cx="371.19" cy="472.48" r="1.9" fill="#ec2a8a"/>
<circle cx="373.88" cy="472.94" r="1.9" fill="#ec2a8a"/>
<circle cx="376.57" cy="472.48" r="1.9" fill="#ec2a8a"/>
<circle cx="379.25" cy="472.94" r="1.9" fill="#ec2a8a"/>
<circle cx="381.94" cy="472.48" r="1.9" fill="#ec2a8a"/>
<circle cx="384.63" cy="472.94" r="1.9" fill="#ec2a8a"/>
<circle cx="387.31" cy="472.48" r="1.9" fill="#ec2a8a"/>
<circle cx="372.42" cy="469.17" r="1.9" fill="#ec2a8a"/>
<circle cx="386.24" cy="471.48" r="1.9" fill="#ec2a8a"/>
<circle cx="378.56" cy="468.41" r="1.9" fill="#ec2a8a"/>
<circle cx="382.40" cy="467.64" r="1.9" fill="#ec2a8a"/>
<circle cx="374.72" cy="462.26" r="1.9" fill="#ec2a8a"/>
<circle cx="379.33" cy="464.57" r="1.9" fill="#ec2a8a"/>
<circle cx="383.17" cy="463.03" r="1.9" fill="#ec2a8a"/>
<circle cx="379.33" cy="459.96" r="1.9" fill="#ec2a8a"/>
<circle cx="379.33" cy="456.89" r="1.9" fill="#ec2a8a"/>
<circle cx="379.33" cy="453.82" r="1.9" fill="#ec2a8a"/>
<circle cx="379.33" cy="442.76" r="1.9" fill="#ec2a8a"/>
<circle cx="58.56" cy="657.33" r="1.9" fill="#111"/>
<circle cx="62.39" cy="657.33" r="1.9" fill="#111"/>
<circle cx="60.55" cy="654.27" r="1.9" fill="#111"/>
<circle cx="63.16" cy="651.97" r="1.9" fill="#111"/>
<circle cx="60.55" cy="641.55" r="1.9" fill="#111"/>
<circle cx="62.09" cy="634.80" r="1.9" fill="#111"/>
<circle cx="59.33" cy="632.04" r="1.9" fill="#111"/>
<circle cx="60.55" cy="627.44" r="1.9" fill="#111"/>
<circle cx="59.33" cy="624.38" r="1.9" fill="#111"/>
<circle cx="62.09" cy="624.38" r="1.9" fill="#111"/>
<circle cx="60.55" cy="621.31" r="1.9" fill="#111"/>
<circle cx="57.03" cy="617.94" r="1.9" fill="#111"/>
<circle cx="63.16" cy="618.25" r="1.9" fill="#111"/>
<circle cx="60.55" cy="616.71" r="1.9" fill="#111"/>
<circle cx="57.03" cy="613.34" r="1.9" fill="#111"/>
<circle cx="60.55" cy="612.42" r="1.9" fill="#111"/>
<circle cx="63.93" cy="613.34" r="1.9" fill="#111"/>
<circle cx="58.56" cy="605.98" r="1.9" fill="#111"/>
<circle cx="62.39" cy="607.52" r="1.9" fill="#111"/>
<circle cx="60.55" cy="601.69" r="1.9" fill="#111"/>
<circle cx="60.55" cy="595.71" r="1.9" fill="#111"/>
<circle cx="60.55" cy="591.42" r="1.9" fill="#111"/>
<circle cx="60.55" cy="584.98" r="1.9" fill="#111"/>
<line x1="49.91" y1="621.93" x2="71.51" y2="621.93" stroke="#111" stroke-width="1.05"/>
<line x1="54.41" y1="617.94" x2="67.01" y2="617.94" stroke="#111" stroke-width="1.05"/>
<line x1="54.41" y1="626.22" x2="67.01" y2="626.22" stroke="#111" stroke-width="1.05"/>
<line x1="60.71" y1="617.94" x2="60.71" y2="626.22" stroke="#111" stroke-width="1.05"/>
<circle cx="87.68" cy="621.01" r="1.9" fill="#0aaac0"/>
<circle cx="87.68" cy="612.12" r="1.9" fill="#0aaac0"/>
<circle cx="87.68" cy="607.82" r="1.9" fill="#0aaac0"/>
<circle cx="83.85" cy="601.69" r="1.9" fill="#0aaac0"/>
<circle cx="87.68" cy="601.08" r="1.9" fill="#0aaac0"/>
<circle cx="90.75" cy="599.85" r="1.9" fill="#0aaac0"/>
<circle cx="80.02" cy="594.49" r="1.9" fill="#0aaac0"/>
<circle cx="83.85" cy="594.95" r="1.9" fill="#0aaac0"/>
<circle cx="87.68" cy="592.96" r="1.9" fill="#0aaac0"/>
<circle cx="91.52" cy="594.03" r="1.9" fill="#0aaac0"/>
<circle cx="95.35" cy="594.49" r="1.9" fill="#0aaac0"/>
<circle cx="87.68" cy="596.79" r="1.9" fill="#0aaac0"/>
<circle cx="85.69" cy="569.96" r="1.9" fill="#0aaac0"/>
<circle cx="89.52" cy="569.50" r="1.9" fill="#0aaac0"/>
<line x1="77.04" y1="596.33" x2="98.64" y2="596.33" stroke="#0aaac0" stroke-width="1.05"/>
<line x1="81.54" y1="593.42" x2="94.14" y2="593.42" stroke="#0aaac0" stroke-width="1.05"/>
<line x1="81.54" y1="599.39" x2="94.14" y2="599.39" stroke="#0aaac0" stroke-width="1.05"/>
<line x1="87.84" y1="593.42" x2="87.84" y2="599.39" stroke="#0aaac0" stroke-width="1.05"/>
<circle cx="114.86" cy="648.60" r="1.9" fill="#111"/>
<circle cx="111.03" cy="623.30" r="1.9" fill="#111"/>
<circle cx="114.86" cy="624.38" r="1.9" fill="#111"/>
<circle cx="118.39" cy="622.84" r="1.9" fill="#111"/>
<circle cx="114.86" cy="620.55" r="1.9" fill="#111"/>
<circle cx="119.92" cy="614.41" r="1.9" fill="#111"/>
<circle cx="113.02" cy="613.19" r="1.9" fill="#111"/>
<circle cx="116.70" cy="612.12" r="1.9" fill="#111"/>
<circle cx="109.96" cy="611.04" r="1.9" fill="#111"/>
<circle cx="115.17" cy="608.28" r="1.9" fill="#111"/>
<circle cx="113.33" cy="605.22" r="1.9" fill="#111"/>
<circle cx="117.62" cy="603.68" r="1.9" fill="#111"/>
<circle cx="115.63" cy="600.62" r="1.9" fill="#111"/>
<circle cx="118.69" cy="598.32" r="1.9" fill="#111"/>
<circle cx="115.17" cy="595.56" r="1.9" fill="#111"/>
<circle cx="111.49" cy="591.73" r="1.9" fill="#111"/>
<circle cx="115.63" cy="589.43" r="1.9" fill="#111"/>
<circle cx="119.92" cy="590.66" r="1.9" fill="#111"/>
<circle cx="116.70" cy="580.69" r="1.9" fill="#111"/>
<circle cx="113.79" cy="578.09" r="1.9" fill="#111"/>
<line x1="104.21" y1="606.29" x2="125.81" y2="606.29" stroke="#111" stroke-width="1.05"/>
<line x1="108.71" y1="602.61" x2="121.31" y2="602.61" stroke="#111" stroke-width="1.05"/>
<line x1="108.71" y1="609.82" x2="121.31" y2="609.82" stroke="#111" stroke-width="1.05"/>
<line x1="115.01" y1="602.61" x2="115.01" y2="609.82" stroke="#111" stroke-width="1.05"/>
<circle cx="137.85" cy="633.57" r="1.9" fill="#ec2a8a"/>
<circle cx="141.68" cy="630.82" r="1.9" fill="#ec2a8a"/>
<circle cx="145.82" cy="629.74" r="1.9" fill="#ec2a8a"/>
<circle cx="139.69" cy="621.62" r="1.9" fill="#ec2a8a"/>
<circle cx="143.22" cy="619.32" r="1.9" fill="#ec2a8a"/>
<circle cx="138.16" cy="612.88" r="1.9" fill="#ec2a8a"/>
<circle cx="141.68" cy="614.41" r="1.9" fill="#ec2a8a"/>
<circle cx="145.82" cy="615.18" r="1.9" fill="#ec2a8a"/>
<circle cx="135.09" cy="600.62" r="1.9" fill="#ec2a8a"/>
<circle cx="139.08" cy="599.09" r="1.9" fill="#ec2a8a"/>
<circle cx="141.68" cy="595.71" r="1.9" fill="#ec2a8a"/>
<circle cx="145.82" cy="596.48" r="1.9" fill="#ec2a8a"/>
<circle cx="148.89" cy="599.09" r="1.9" fill="#ec2a8a"/>
<circle cx="137.85" cy="587.59" r="1.9" fill="#ec2a8a"/>
<circle cx="141.68" cy="585.60" r="1.9" fill="#ec2a8a"/>
<circle cx="145.82" cy="584.83" r="1.9" fill="#ec2a8a"/>
<line x1="131.04" y1="607.52" x2="152.64" y2="607.52" stroke="#ec2a8a" stroke-width="1.05"/>
<line x1="135.54" y1="603.38" x2="148.14" y2="603.38" stroke="#ec2a8a" stroke-width="1.05"/>
<line x1="135.54" y1="611.66" x2="148.14" y2="611.66" stroke="#ec2a8a" stroke-width="1.05"/>
<line x1="141.84" y1="603.38" x2="141.84" y2="611.66" stroke="#ec2a8a" stroke-width="1.05"/>
<circle cx="320.09" cy="654.27" r="1.9" fill="#111"/>
<circle cx="316.26" cy="652.43" r="1.9" fill="#111"/>
<circle cx="323.16" cy="652.43" r="1.9" fill="#111"/>
<circle cx="311.66" cy="650.44" r="1.9" fill="#111"/>
<circle cx="314.73" cy="651.20" r="1.9" fill="#111"/>
<circle cx="319.33" cy="650.44" r="1.9" fill="#111"/>
<circle cx="325.46" cy="648.14" r="1.9" fill="#111"/>
<circle cx="328.22" cy="647.37" r="1.9" fill="#111"/>
<circle cx="313.96" cy="648.14" r="1.9" fill="#111"/>
<circle cx="317.80" cy="647.68" r="1.9" fill="#111"/>
<circle cx="321.63" cy="647.37" r="1.9" fill="#111"/>
<circle cx="324.69" cy="644.76" r="1.9" fill="#111"/>
<circle cx="320.86" cy="644.61" r="1.9" fill="#111"/>
<circle cx="320.09" cy="638.48" r="1.9" fill="#111"/>
<circle cx="315.50" cy="634.80" r="1.9" fill="#111"/>
<circle cx="322.39" cy="634.34" r="1.9" fill="#111"/>
<circle cx="325.46" cy="633.88" r="1.9" fill="#111"/>
<circle cx="317.03" cy="631.28" r="1.9" fill="#111"/>
<circle cx="320.86" cy="631.74" r="1.9" fill="#111"/>
<circle cx="313.20" cy="628.52" r="1.9" fill="#111"/>
<circle cx="319.33" cy="628.98" r="1.9" fill="#111"/>
<circle cx="326.99" cy="628.52" r="1.9" fill="#111"/>
<circle cx="318.56" cy="625.60" r="1.9" fill="#111"/>
<circle cx="323.93" cy="626.37" r="1.9" fill="#111"/>
<circle cx="319.79" cy="618.25" r="1.9" fill="#111"/>
<circle cx="319.79" cy="613.19" r="1.9" fill="#111"/>
<line x1="309.29" y1="637.87" x2="330.89" y2="637.87" stroke="#111" stroke-width="1.05"/>
<line x1="313.79" y1="635.87" x2="326.39" y2="635.87" stroke="#111" stroke-width="1.05"/>
<line x1="313.79" y1="640.01" x2="326.39" y2="640.01" stroke="#111" stroke-width="1.05"/>
<line x1="320.09" y1="635.87" x2="320.09" y2="640.01" stroke="#111" stroke-width="1.05"/>
<circle cx="349.68" cy="649.67" r="1.9" fill="#0aaac0"/>
<circle cx="346.61" cy="648.60" r="1.9" fill="#0aaac0"/>
<circle cx="343.09" cy="647.37" r="1.9" fill="#0aaac0"/>
<circle cx="346.92" cy="642.46" r="1.9" fill="#0aaac0"/>
<circle cx="349.98" cy="638.94" r="1.9" fill="#0aaac0"/>
<circle cx="346.15" cy="638.17" r="1.9" fill="#0aaac0"/>
<circle cx="343.55" cy="636.18" r="1.9" fill="#0aaac0"/>
<circle cx="346.61" cy="630.82" r="1.9" fill="#0aaac0"/>
<circle cx="341.55" cy="622.84" r="1.9" fill="#0aaac0"/>
<circle cx="345.39" cy="623.15" r="1.9" fill="#0aaac0"/>
<circle cx="349.98" cy="622.54" r="1.9" fill="#0aaac0"/>
<circle cx="346.92" cy="625.60" r="1.9" fill="#0aaac0"/>
<circle cx="353.82" cy="620.55" r="1.9" fill="#0aaac0"/>
<circle cx="339.25" cy="619.01" r="1.9" fill="#0aaac0"/>
<circle cx="343.55" cy="617.48" r="1.9" fill="#0aaac0"/>
<circle cx="346.92" cy="618.55" r="1.9" fill="#0aaac0"/>
<circle cx="350.75" cy="617.94" r="1.9" fill="#0aaac0"/>
<circle cx="354.28" cy="617.48" r="1.9" fill="#0aaac0"/>
<circle cx="345.39" cy="613.65" r="1.9" fill="#0aaac0"/>
<circle cx="342.32" cy="611.04" r="1.9" fill="#0aaac0"/>
<circle cx="348.45" cy="610.58" r="1.9" fill="#0aaac0"/>
<circle cx="351.82" cy="610.58" r="1.9" fill="#0aaac0"/>
<circle cx="346.61" cy="583.30" r="1.9" fill="#0aaac0"/>
<line x1="336.12" y1="624.38" x2="357.72" y2="624.38" stroke="#0aaac0" stroke-width="1.05"/>
<line x1="340.62" y1="622.08" x2="353.22" y2="622.08" stroke="#0aaac0" stroke-width="1.05"/>
<line x1="340.62" y1="627.14" x2="353.22" y2="627.14" stroke="#0aaac0" stroke-width="1.05"/>
<line x1="346.92" y1="622.08" x2="346.92" y2="627.14" stroke="#0aaac0" stroke-width="1.05"/>
<circle cx="373.58" cy="656.98" r="1.9" fill="#111"/>
<circle cx="376.47" cy="654.89" r="1.9" fill="#111"/>
<circle cx="372.45" cy="652.96" r="1.9" fill="#111"/>
<circle cx="376.47" cy="651.35" r="1.9" fill="#111"/>
<circle cx="370.04" cy="649.75" r="1.9" fill="#111"/>
<circle cx="373.58" cy="648.95" r="1.9" fill="#111"/>
<circle cx="373.58" cy="643.00" r="1.9" fill="#111"/>
<circle cx="376.95" cy="641.72" r="1.9" fill="#111"/>
<circle cx="370.04" cy="638.51" r="1.9" fill="#111"/>
<circle cx="373.58" cy="637.70" r="1.9" fill="#111"/>
<circle cx="377.59" cy="637.22" r="1.9" fill="#111"/>
<circle cx="370.85" cy="632.40" r="1.9" fill="#111"/>
<circle cx="374.06" cy="629.67" r="1.9" fill="#111"/>
<circle cx="377.59" cy="630.00" r="1.9" fill="#111"/>
<circle cx="373.58" cy="625.66" r="1.9" fill="#111"/>
<circle cx="373.58" cy="620.84" r="1.9" fill="#111"/>
<circle cx="371.65" cy="614.74" r="1.9" fill="#111"/>
<circle cx="375.34" cy="614.74" r="1.9" fill="#111"/>
<circle cx="371.65" cy="601.25" r="1.9" fill="#111"/>
<circle cx="375.34" cy="599.16" r="1.9" fill="#111"/>
<circle cx="371.65" cy="592.74" r="1.9" fill="#111"/>
<circle cx="375.34" cy="594.34" r="1.9" fill="#111"/>
<circle cx="371.65" cy="573.15" r="1.9" fill="#111"/>
<circle cx="375.34" cy="572.18" r="1.9" fill="#111"/>
<line x1="362.78" y1="624.54" x2="384.38" y2="624.54" stroke="#111" stroke-width="1.05"/>
<line x1="367.28" y1="619.24" x2="379.88" y2="619.24" stroke="#111" stroke-width="1.05"/>
<line x1="367.28" y1="630.00" x2="379.88" y2="630.00" stroke="#111" stroke-width="1.05"/>
<line x1="373.58" y1="619.24" x2="373.58" y2="630.00" stroke="#111" stroke-width="1.05"/>
<circle cx="398.95" cy="647.66" r="1.9" fill="#ec2a8a"/>
<circle cx="402.64" cy="648.95" r="1.9" fill="#ec2a8a"/>
<circle cx="400.88" cy="644.13" r="1.9" fill="#ec2a8a"/>
<circle cx="400.88" cy="641.24" r="1.9" fill="#ec2a8a"/>
<circle cx="397.34" cy="638.51" r="1.9" fill="#ec2a8a"/>
<circle cx="400.88" cy="636.58" r="1.9" fill="#ec2a8a"/>
<circle cx="404.57" cy="634.81" r="1.9" fill="#ec2a8a"/>
<circle cx="395.26" cy="631.76" r="1.9" fill="#ec2a8a"/>
<circle cx="400.56" cy="631.28" r="1.9" fill="#ec2a8a"/>
<circle cx="407.46" cy="631.28" r="1.9" fill="#ec2a8a"/>
<circle cx="393.33" cy="628.87" r="1.9" fill="#ec2a8a"/>
<circle cx="397.34" cy="628.07" r="1.9" fill="#ec2a8a"/>
<circle cx="401.36" cy="628.55" r="1.9" fill="#ec2a8a"/>
<circle cx="405.37" cy="629.19" r="1.9" fill="#ec2a8a"/>
<circle cx="395.74" cy="625.18" r="1.9" fill="#ec2a8a"/>
<circle cx="400.07" cy="626.46" r="1.9" fill="#ec2a8a"/>
<circle cx="404.57" cy="625.66" r="1.9" fill="#ec2a8a"/>
<circle cx="408.59" cy="625.66" r="1.9" fill="#ec2a8a"/>
<circle cx="400.88" cy="620.04" r="1.9" fill="#ec2a8a"/>
<circle cx="399.43" cy="611.53" r="1.9" fill="#ec2a8a"/>
<circle cx="402.64" cy="609.92" r="1.9" fill="#ec2a8a"/>
<circle cx="398.95" cy="597.56" r="1.9" fill="#ec2a8a"/>
<circle cx="402.64" cy="599.16" r="1.9" fill="#ec2a8a"/>
<circle cx="400.88" cy="591.13" r="1.9" fill="#ec2a8a"/>
<circle cx="400.88" cy="584.71" r="1.9" fill="#ec2a8a"/>
<circle cx="400.88" cy="565.92" r="1.9" fill="#ec2a8a"/>
<line x1="390.24" y1="621.32" x2="411.84" y2="621.32" stroke="#ec2a8a" stroke-width="1.05"/>
<line x1="394.74" y1="617.31" x2="407.34" y2="617.31" stroke="#ec2a8a" stroke-width="1.05"/>
<line x1="394.74" y1="625.34" x2="407.34" y2="625.34" stroke="#ec2a8a" stroke-width="1.05"/>
<line x1="401.04" y1="617.31" x2="401.04" y2="625.34" stroke="#ec2a8a" stroke-width="1.05"/>
</svg>
</body>
</html>
